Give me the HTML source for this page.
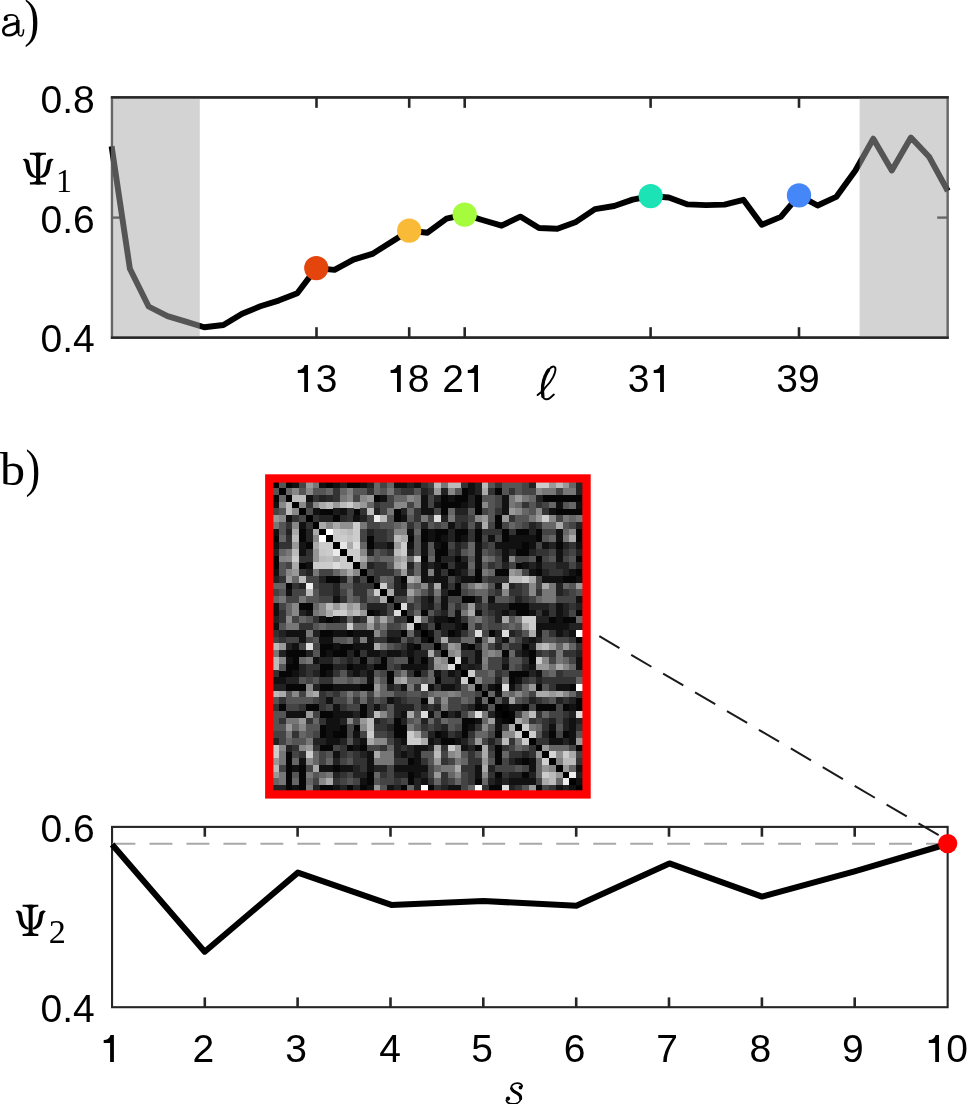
<!DOCTYPE html>
<html><head><meta charset="utf-8"><style>
html,body{margin:0;padding:0;background:#fff;overflow:hidden}
svg{display:block}
text{fill:#000}
</style></head><body>
<svg width="967" height="1104" viewBox="0 0 967 1104">
<rect x="112.0" y="97.45" width="835.6" height="240.15000000000003" fill="none" stroke="#262626" stroke-width="2.3"/>
<line x1="316.5" y1="97.45" x2="316.5" y2="107.85000000000001" stroke="#262626" stroke-width="2.6"/>
<line x1="316.5" y1="337.6" x2="316.5" y2="327.20000000000005" stroke="#262626" stroke-width="2.6"/>
<line x1="409.2" y1="97.45" x2="409.2" y2="107.85000000000001" stroke="#262626" stroke-width="2.6"/>
<line x1="409.2" y1="337.6" x2="409.2" y2="327.20000000000005" stroke="#262626" stroke-width="2.6"/>
<line x1="464.7" y1="97.45" x2="464.7" y2="107.85000000000001" stroke="#262626" stroke-width="2.6"/>
<line x1="464.7" y1="337.6" x2="464.7" y2="327.20000000000005" stroke="#262626" stroke-width="2.6"/>
<line x1="650.6" y1="97.45" x2="650.6" y2="107.85000000000001" stroke="#262626" stroke-width="2.6"/>
<line x1="650.6" y1="337.6" x2="650.6" y2="327.20000000000005" stroke="#262626" stroke-width="2.6"/>
<line x1="799.0" y1="97.45" x2="799.0" y2="107.85000000000001" stroke="#262626" stroke-width="2.6"/>
<line x1="799.0" y1="337.6" x2="799.0" y2="327.20000000000005" stroke="#262626" stroke-width="2.6"/>
<line x1="112.0" y1="217.6" x2="122.4" y2="217.6" stroke="#262626" stroke-width="2.4"/>
<line x1="947.6" y1="217.6" x2="937.2" y2="217.6" stroke="#262626" stroke-width="2.4"/>
<polyline points="111.6,146.2 129.9,268.8 148.6,306.5 167.5,316.2 185.9,321.6 204.2,327.2 223.4,325.0 242.1,313.8 260.3,306.3 278.6,300.6 297.3,293.3 316.3,268.1 334.5,269.9 353.4,259.6 372.3,253.9 390.5,242.4 409.2,230.7 427.5,232.7 446.5,218.7 464.7,214.6 483.2,220.2 501.6,225.7 520.3,216.6 539.0,228.0 557.4,228.7 576.0,221.9 595.0,209.1 614.2,206.0 632.6,199.6 650.7,196.1 668.8,197.5 687.7,204.4 706.1,205.1 724.5,204.6 743.4,199.8 761.8,224.8 780.8,216.9 799.0,195.3 817.6,205.5 836.2,196.9 855.4,170.5 873.3,138.7 891.8,170.5 910.9,137.5 929.3,157.1 947.8,191.0" fill="none" stroke="#000" stroke-width="5.9" stroke-linejoin="round" stroke-linecap="butt"/>
<circle cx="316.3" cy="268.1" r="12.15" fill="#e3450d"/>
<circle cx="409.2" cy="230.7" r="12.15" fill="#f9ba38"/>
<circle cx="464.7" cy="214.6" r="12.15" fill="#a4fc3c"/>
<circle cx="650.7" cy="196.1" r="12.15" fill="#1ce3b5"/>
<circle cx="799.0" cy="195.3" r="12.15" fill="#4586f8"/>
<rect x="110.85" y="97.45" width="88.95000000000002" height="240.15000000000003" fill="#a8a8a8" fill-opacity="0.505"/>
<rect x="859.6" y="97.45" width="89.14999999999998" height="240.15000000000003" fill="#a8a8a8" fill-opacity="0.505"/>
<line x1="110.85" y1="97.45" x2="948.75" y2="97.45" stroke="#262626" stroke-width="2.3"/>
<line x1="110.85" y1="337.6" x2="948.75" y2="337.6" stroke="#262626" stroke-width="2.3"/>
<rect x="112.05" y="826.9" width="835.6" height="180.30000000000007" fill="none" stroke="#262626" stroke-width="2.1"/>
<line x1="204.8" y1="826.9" x2="204.8" y2="836.6999999999999" stroke="#262626" stroke-width="2.6"/>
<line x1="204.8" y1="1007.2" x2="204.8" y2="997.4000000000001" stroke="#262626" stroke-width="2.6"/>
<line x1="297.6" y1="826.9" x2="297.6" y2="836.6999999999999" stroke="#262626" stroke-width="2.6"/>
<line x1="297.6" y1="1007.2" x2="297.6" y2="997.4000000000001" stroke="#262626" stroke-width="2.6"/>
<line x1="390.5" y1="826.9" x2="390.5" y2="836.6999999999999" stroke="#262626" stroke-width="2.6"/>
<line x1="390.5" y1="1007.2" x2="390.5" y2="997.4000000000001" stroke="#262626" stroke-width="2.6"/>
<line x1="483.3" y1="826.9" x2="483.3" y2="836.6999999999999" stroke="#262626" stroke-width="2.6"/>
<line x1="483.3" y1="1007.2" x2="483.3" y2="997.4000000000001" stroke="#262626" stroke-width="2.6"/>
<line x1="576.2" y1="826.9" x2="576.2" y2="836.6999999999999" stroke="#262626" stroke-width="2.6"/>
<line x1="576.2" y1="1007.2" x2="576.2" y2="997.4000000000001" stroke="#262626" stroke-width="2.6"/>
<line x1="669.0" y1="826.9" x2="669.0" y2="836.6999999999999" stroke="#262626" stroke-width="2.6"/>
<line x1="669.0" y1="1007.2" x2="669.0" y2="997.4000000000001" stroke="#262626" stroke-width="2.6"/>
<line x1="761.9" y1="826.9" x2="761.9" y2="836.6999999999999" stroke="#262626" stroke-width="2.6"/>
<line x1="761.9" y1="1007.2" x2="761.9" y2="997.4000000000001" stroke="#262626" stroke-width="2.6"/>
<line x1="854.7" y1="826.9" x2="854.7" y2="836.6999999999999" stroke="#262626" stroke-width="2.6"/>
<line x1="854.7" y1="1007.2" x2="854.7" y2="997.4000000000001" stroke="#262626" stroke-width="2.6"/>
<line x1="112.5" y1="843.8" x2="947" y2="843.8" stroke="#a8a8a8" stroke-width="2" stroke-dasharray="22.9 14.08"/>
<polyline points="112.1,844.5 204.7,951.7 297.9,872.6 391.3,904.9 483.4,901.0 576.4,905.8 669.4,863.4 762.0,896.6 854.6,871.3 947.4,844.0" fill="none" stroke="#000" stroke-width="6" stroke-linejoin="round"/>
<line x1="599.3" y1="636.2" x2="938.7" y2="835.2" stroke="#1a1a1a" stroke-width="2" stroke-dasharray="23.4 13.6"/>
<circle cx="947.7" cy="843.6" r="9.6" fill="#ff0000"/>
<rect x="272.2" y="481.35" width="310.7" height="310.44999999999993" fill="#060606"/>
<g shape-rendering="crispEdges"><rect x="272.20" y="481.35" width="7.00" height="7.00" fill="#000000"/><rect x="278.95" y="481.35" width="7.00" height="7.00" fill="#555555"/><rect x="292.46" y="481.35" width="7.00" height="7.00" fill="#111111"/><rect x="299.22" y="481.35" width="7.00" height="7.00" fill="#444444"/><rect x="305.97" y="481.35" width="7.00" height="7.00" fill="#999999"/><rect x="312.73" y="481.35" width="7.00" height="7.00" fill="#777777"/><rect x="319.48" y="481.35" width="7.00" height="7.00" fill="#111111"/><rect x="332.99" y="481.35" width="7.00" height="7.00" fill="#111111"/><rect x="339.74" y="481.35" width="7.00" height="7.00" fill="#222222"/><rect x="360.01" y="481.35" width="7.00" height="7.00" fill="#111111"/><rect x="366.76" y="481.35" width="7.00" height="7.00" fill="#222222"/><rect x="373.52" y="481.35" width="7.00" height="7.00" fill="#666666"/><rect x="380.27" y="481.35" width="7.00" height="7.00" fill="#444444"/><rect x="387.02" y="481.35" width="7.00" height="7.00" fill="#666666"/><rect x="393.78" y="481.35" width="7.00" height="7.00" fill="#111111"/><rect x="400.53" y="481.35" width="7.00" height="7.00" fill="#111111"/><rect x="407.29" y="481.35" width="7.00" height="7.00" fill="#222222"/><rect x="414.04" y="481.35" width="7.00" height="7.00" fill="#111111"/><rect x="420.80" y="481.35" width="7.00" height="7.00" fill="#333333"/><rect x="427.55" y="481.35" width="7.00" height="7.00" fill="#444444"/><rect x="434.30" y="481.35" width="7.00" height="7.00" fill="#bbbbbb"/><rect x="441.06" y="481.35" width="7.00" height="7.00" fill="#777777"/><rect x="447.81" y="481.35" width="7.00" height="7.00" fill="#bbbbbb"/><rect x="454.57" y="481.35" width="7.00" height="7.00" fill="#bbbbbb"/><rect x="461.32" y="481.35" width="7.00" height="7.00" fill="#333333"/><rect x="468.08" y="481.35" width="7.00" height="7.00" fill="#111111"/><rect x="474.83" y="481.35" width="7.00" height="7.00" fill="#222222"/><rect x="481.58" y="481.35" width="7.00" height="7.00" fill="#bbbbbb"/><rect x="488.34" y="481.35" width="7.00" height="7.00" fill="#555555"/><rect x="495.09" y="481.35" width="7.00" height="7.00" fill="#333333"/><rect x="501.85" y="481.35" width="7.00" height="7.00" fill="#555555"/><rect x="508.60" y="481.35" width="7.00" height="7.00" fill="#555555"/><rect x="515.36" y="481.35" width="7.00" height="7.00" fill="#555555"/><rect x="522.11" y="481.35" width="7.00" height="7.00" fill="#444444"/><rect x="528.87" y="481.35" width="7.00" height="7.00" fill="#222222"/><rect x="535.62" y="481.35" width="7.00" height="7.00" fill="#cccccc"/><rect x="542.37" y="481.35" width="7.00" height="7.00" fill="#cccccc"/><rect x="549.13" y="481.35" width="7.00" height="7.00" fill="#999999"/><rect x="555.88" y="481.35" width="7.00" height="7.00" fill="#bbbbbb"/><rect x="562.64" y="481.35" width="7.00" height="7.00" fill="#999999"/><rect x="569.39" y="481.35" width="7.00" height="7.00" fill="#666666"/><rect x="576.15" y="481.35" width="7.00" height="7.00" fill="#222222"/><rect x="272.20" y="488.10" width="7.00" height="7.00" fill="#555555"/><rect x="278.95" y="488.10" width="7.00" height="7.00" fill="#000000"/><rect x="285.71" y="488.10" width="7.00" height="7.00" fill="#666666"/><rect x="292.46" y="488.10" width="7.00" height="7.00" fill="#888888"/><rect x="299.22" y="488.10" width="7.00" height="7.00" fill="#555555"/><rect x="305.97" y="488.10" width="7.00" height="7.00" fill="#888888"/><rect x="312.73" y="488.10" width="7.00" height="7.00" fill="#555555"/><rect x="319.48" y="488.10" width="7.00" height="7.00" fill="#555555"/><rect x="326.23" y="488.10" width="7.00" height="7.00" fill="#666666"/><rect x="332.99" y="488.10" width="7.00" height="7.00" fill="#333333"/><rect x="339.74" y="488.10" width="7.00" height="7.00" fill="#666666"/><rect x="346.50" y="488.10" width="7.00" height="7.00" fill="#808080"/><rect x="353.25" y="488.10" width="7.00" height="7.00" fill="#555555"/><rect x="360.01" y="488.10" width="7.00" height="7.00" fill="#555555"/><rect x="366.76" y="488.10" width="7.00" height="7.00" fill="#333333"/><rect x="373.52" y="488.10" width="7.00" height="7.00" fill="#666666"/><rect x="380.27" y="488.10" width="7.00" height="7.00" fill="#555555"/><rect x="387.02" y="488.10" width="7.00" height="7.00" fill="#777777"/><rect x="393.78" y="488.10" width="7.00" height="7.00" fill="#444444"/><rect x="400.53" y="488.10" width="7.00" height="7.00" fill="#333333"/><rect x="407.29" y="488.10" width="7.00" height="7.00" fill="#333333"/><rect x="414.04" y="488.10" width="7.00" height="7.00" fill="#555555"/><rect x="420.80" y="488.10" width="7.00" height="7.00" fill="#222222"/><rect x="427.55" y="488.10" width="7.00" height="7.00" fill="#333333"/><rect x="434.30" y="488.10" width="7.00" height="7.00" fill="#999999"/><rect x="441.06" y="488.10" width="7.00" height="7.00" fill="#222222"/><rect x="447.81" y="488.10" width="7.00" height="7.00" fill="#888888"/><rect x="454.57" y="488.10" width="7.00" height="7.00" fill="#555555"/><rect x="468.08" y="488.10" width="7.00" height="7.00" fill="#111111"/><rect x="474.83" y="488.10" width="7.00" height="7.00" fill="#222222"/><rect x="481.58" y="488.10" width="7.00" height="7.00" fill="#aaaaaa"/><rect x="488.34" y="488.10" width="7.00" height="7.00" fill="#333333"/><rect x="501.85" y="488.10" width="7.00" height="7.00" fill="#555555"/><rect x="508.60" y="488.10" width="7.00" height="7.00" fill="#333333"/><rect x="515.36" y="488.10" width="7.00" height="7.00" fill="#555555"/><rect x="522.11" y="488.10" width="7.00" height="7.00" fill="#444444"/><rect x="528.87" y="488.10" width="7.00" height="7.00" fill="#444444"/><rect x="535.62" y="488.10" width="7.00" height="7.00" fill="#888888"/><rect x="542.37" y="488.10" width="7.00" height="7.00" fill="#777777"/><rect x="549.13" y="488.10" width="7.00" height="7.00" fill="#777777"/><rect x="555.88" y="488.10" width="7.00" height="7.00" fill="#444444"/><rect x="562.64" y="488.10" width="7.00" height="7.00" fill="#777777"/><rect x="569.39" y="488.10" width="7.00" height="7.00" fill="#777777"/><rect x="576.15" y="488.10" width="7.00" height="7.00" fill="#222222"/><rect x="278.95" y="494.85" width="7.00" height="7.00" fill="#666666"/><rect x="285.71" y="494.85" width="7.00" height="7.00" fill="#000000"/><rect x="292.46" y="494.85" width="7.00" height="7.00" fill="#bbbbbb"/><rect x="299.22" y="494.85" width="7.00" height="7.00" fill="#bbbbbb"/><rect x="305.97" y="494.85" width="7.00" height="7.00" fill="#111111"/><rect x="312.73" y="494.85" width="7.00" height="7.00" fill="#333333"/><rect x="319.48" y="494.85" width="7.00" height="7.00" fill="#222222"/><rect x="326.23" y="494.85" width="7.00" height="7.00" fill="#2a2a2a"/><rect x="332.99" y="494.85" width="7.00" height="7.00" fill="#333333"/><rect x="339.74" y="494.85" width="7.00" height="7.00" fill="#777777"/><rect x="346.50" y="494.85" width="7.00" height="7.00" fill="#888888"/><rect x="353.25" y="494.85" width="7.00" height="7.00" fill="#444444"/><rect x="360.01" y="494.85" width="7.00" height="7.00" fill="#888888"/><rect x="366.76" y="494.85" width="7.00" height="7.00" fill="#999999"/><rect x="380.27" y="494.85" width="7.00" height="7.00" fill="#111111"/><rect x="387.02" y="494.85" width="7.00" height="7.00" fill="#444444"/><rect x="393.78" y="494.85" width="7.00" height="7.00" fill="#666666"/><rect x="400.53" y="494.85" width="7.00" height="7.00" fill="#666666"/><rect x="407.29" y="494.85" width="7.00" height="7.00" fill="#888888"/><rect x="414.04" y="494.85" width="7.00" height="7.00" fill="#777777"/><rect x="420.80" y="494.85" width="7.00" height="7.00" fill="#111111"/><rect x="427.55" y="494.85" width="7.00" height="7.00" fill="#444444"/><rect x="434.30" y="494.85" width="7.00" height="7.00" fill="#222222"/><rect x="447.81" y="494.85" width="7.00" height="7.00" fill="#111111"/><rect x="468.08" y="494.85" width="7.00" height="7.00" fill="#222222"/><rect x="481.58" y="494.85" width="7.00" height="7.00" fill="#555555"/><rect x="488.34" y="494.85" width="7.00" height="7.00" fill="#555555"/><rect x="495.09" y="494.85" width="7.00" height="7.00" fill="#444444"/><rect x="501.85" y="494.85" width="7.00" height="7.00" fill="#111111"/><rect x="508.60" y="494.85" width="7.00" height="7.00" fill="#777777"/><rect x="515.36" y="494.85" width="7.00" height="7.00" fill="#999999"/><rect x="522.11" y="494.85" width="7.00" height="7.00" fill="#777777"/><rect x="528.87" y="494.85" width="7.00" height="7.00" fill="#666666"/><rect x="535.62" y="494.85" width="7.00" height="7.00" fill="#222222"/><rect x="272.20" y="501.60" width="7.00" height="7.00" fill="#111111"/><rect x="278.95" y="501.60" width="7.00" height="7.00" fill="#888888"/><rect x="285.71" y="501.60" width="7.00" height="7.00" fill="#bbbbbb"/><rect x="292.46" y="501.60" width="7.00" height="7.00" fill="#000000"/><rect x="299.22" y="501.60" width="7.00" height="7.00" fill="#888888"/><rect x="305.97" y="501.60" width="7.00" height="7.00" fill="#333333"/><rect x="312.73" y="501.60" width="7.00" height="7.00" fill="#888888"/><rect x="319.48" y="501.60" width="7.00" height="7.00" fill="#aaaaaa"/><rect x="326.23" y="501.60" width="7.00" height="7.00" fill="#bbbbbb"/><rect x="332.99" y="501.60" width="7.00" height="7.00" fill="#999999"/><rect x="339.74" y="501.60" width="7.00" height="7.00" fill="#bbbbbb"/><rect x="346.50" y="501.60" width="7.00" height="7.00" fill="#cccccc"/><rect x="353.25" y="501.60" width="7.00" height="7.00" fill="#aaaaaa"/><rect x="360.01" y="501.60" width="7.00" height="7.00" fill="#999999"/><rect x="366.76" y="501.60" width="7.00" height="7.00" fill="#666666"/><rect x="373.52" y="501.60" width="7.00" height="7.00" fill="#333333"/><rect x="380.27" y="501.60" width="7.00" height="7.00" fill="#444444"/><rect x="387.02" y="501.60" width="7.00" height="7.00" fill="#444444"/><rect x="393.78" y="501.60" width="7.00" height="7.00" fill="#888888"/><rect x="400.53" y="501.60" width="7.00" height="7.00" fill="#888888"/><rect x="407.29" y="501.60" width="7.00" height="7.00" fill="#444444"/><rect x="414.04" y="501.60" width="7.00" height="7.00" fill="#777777"/><rect x="420.80" y="501.60" width="7.00" height="7.00" fill="#111111"/><rect x="427.55" y="501.60" width="7.00" height="7.00" fill="#444444"/><rect x="434.30" y="501.60" width="7.00" height="7.00" fill="#111111"/><rect x="461.32" y="501.60" width="7.00" height="7.00" fill="#111111"/><rect x="468.08" y="501.60" width="7.00" height="7.00" fill="#222222"/><rect x="481.58" y="501.60" width="7.00" height="7.00" fill="#888888"/><rect x="488.34" y="501.60" width="7.00" height="7.00" fill="#555555"/><rect x="495.09" y="501.60" width="7.00" height="7.00" fill="#444444"/><rect x="501.85" y="501.60" width="7.00" height="7.00" fill="#111111"/><rect x="508.60" y="501.60" width="7.00" height="7.00" fill="#777777"/><rect x="515.36" y="501.60" width="7.00" height="7.00" fill="#666666"/><rect x="522.11" y="501.60" width="7.00" height="7.00" fill="#333333"/><rect x="528.87" y="501.60" width="7.00" height="7.00" fill="#555555"/><rect x="535.62" y="501.60" width="7.00" height="7.00" fill="#333333"/><rect x="542.37" y="501.60" width="7.00" height="7.00" fill="#444444"/><rect x="549.13" y="501.60" width="7.00" height="7.00" fill="#666666"/><rect x="555.88" y="501.60" width="7.00" height="7.00" fill="#111111"/><rect x="562.64" y="501.60" width="7.00" height="7.00" fill="#555555"/><rect x="569.39" y="501.60" width="7.00" height="7.00" fill="#666666"/><rect x="576.15" y="501.60" width="7.00" height="7.00" fill="#111111"/><rect x="272.20" y="508.35" width="7.00" height="7.00" fill="#444444"/><rect x="278.95" y="508.35" width="7.00" height="7.00" fill="#555555"/><rect x="285.71" y="508.35" width="7.00" height="7.00" fill="#bbbbbb"/><rect x="292.46" y="508.35" width="7.00" height="7.00" fill="#888888"/><rect x="299.22" y="508.35" width="7.00" height="7.00" fill="#000000"/><rect x="305.97" y="508.35" width="7.00" height="7.00" fill="#4c4c4c"/><rect x="312.73" y="508.35" width="7.00" height="7.00" fill="#111111"/><rect x="332.99" y="508.35" width="7.00" height="7.00" fill="#1a1a1a"/><rect x="339.74" y="508.35" width="7.00" height="7.00" fill="#111111"/><rect x="346.50" y="508.35" width="7.00" height="7.00" fill="#333333"/><rect x="360.01" y="508.35" width="7.00" height="7.00" fill="#333333"/><rect x="366.76" y="508.35" width="7.00" height="7.00" fill="#bbbbbb"/><rect x="373.52" y="508.35" width="7.00" height="7.00" fill="#222222"/><rect x="380.27" y="508.35" width="7.00" height="7.00" fill="#444444"/><rect x="387.02" y="508.35" width="7.00" height="7.00" fill="#777777"/><rect x="400.53" y="508.35" width="7.00" height="7.00" fill="#222222"/><rect x="407.29" y="508.35" width="7.00" height="7.00" fill="#666666"/><rect x="414.04" y="508.35" width="7.00" height="7.00" fill="#333333"/><rect x="420.80" y="508.35" width="7.00" height="7.00" fill="#111111"/><rect x="427.55" y="508.35" width="7.00" height="7.00" fill="#111111"/><rect x="434.30" y="508.35" width="7.00" height="7.00" fill="#444444"/><rect x="447.81" y="508.35" width="7.00" height="7.00" fill="#666666"/><rect x="454.57" y="508.35" width="7.00" height="7.00" fill="#222222"/><rect x="461.32" y="508.35" width="7.00" height="7.00" fill="#222222"/><rect x="468.08" y="508.35" width="7.00" height="7.00" fill="#555555"/><rect x="481.58" y="508.35" width="7.00" height="7.00" fill="#444444"/><rect x="488.34" y="508.35" width="7.00" height="7.00" fill="#555555"/><rect x="495.09" y="508.35" width="7.00" height="7.00" fill="#333333"/><rect x="501.85" y="508.35" width="7.00" height="7.00" fill="#111111"/><rect x="508.60" y="508.35" width="7.00" height="7.00" fill="#999999"/><rect x="515.36" y="508.35" width="7.00" height="7.00" fill="#888888"/><rect x="522.11" y="508.35" width="7.00" height="7.00" fill="#666666"/><rect x="528.87" y="508.35" width="7.00" height="7.00" fill="#555555"/><rect x="535.62" y="508.35" width="7.00" height="7.00" fill="#888888"/><rect x="542.37" y="508.35" width="7.00" height="7.00" fill="#333333"/><rect x="549.13" y="508.35" width="7.00" height="7.00" fill="#111111"/><rect x="272.20" y="515.09" width="7.00" height="7.00" fill="#999999"/><rect x="278.95" y="515.09" width="7.00" height="7.00" fill="#888888"/><rect x="285.71" y="515.09" width="7.00" height="7.00" fill="#111111"/><rect x="292.46" y="515.09" width="7.00" height="7.00" fill="#333333"/><rect x="299.22" y="515.09" width="7.00" height="7.00" fill="#484848"/><rect x="305.97" y="515.09" width="7.00" height="7.00" fill="#000000"/><rect x="312.73" y="515.09" width="7.00" height="7.00" fill="#333333"/><rect x="319.48" y="515.09" width="7.00" height="7.00" fill="#222222"/><rect x="326.23" y="515.09" width="7.00" height="7.00" fill="#222222"/><rect x="339.74" y="515.09" width="7.00" height="7.00" fill="#2a2a2a"/><rect x="346.50" y="515.09" width="7.00" height="7.00" fill="#333333"/><rect x="353.25" y="515.09" width="7.00" height="7.00" fill="#111111"/><rect x="360.01" y="515.09" width="7.00" height="7.00" fill="#222222"/><rect x="366.76" y="515.09" width="7.00" height="7.00" fill="#444444"/><rect x="373.52" y="515.09" width="7.00" height="7.00" fill="#eeeeee"/><rect x="380.27" y="515.09" width="7.00" height="7.00" fill="#bbbbbb"/><rect x="387.02" y="515.09" width="7.00" height="7.00" fill="#555555"/><rect x="400.53" y="515.09" width="7.00" height="7.00" fill="#111111"/><rect x="407.29" y="515.09" width="7.00" height="7.00" fill="#555555"/><rect x="414.04" y="515.09" width="7.00" height="7.00" fill="#333333"/><rect x="420.80" y="515.09" width="7.00" height="7.00" fill="#777777"/><rect x="427.55" y="515.09" width="7.00" height="7.00" fill="#444444"/><rect x="434.30" y="515.09" width="7.00" height="7.00" fill="#dddddd"/><rect x="441.06" y="515.09" width="7.00" height="7.00" fill="#222222"/><rect x="447.81" y="515.09" width="7.00" height="7.00" fill="#777777"/><rect x="454.57" y="515.09" width="7.00" height="7.00" fill="#333333"/><rect x="461.32" y="515.09" width="7.00" height="7.00" fill="#333333"/><rect x="468.08" y="515.09" width="7.00" height="7.00" fill="#444444"/><rect x="474.83" y="515.09" width="7.00" height="7.00" fill="#888888"/><rect x="481.58" y="515.09" width="7.00" height="7.00" fill="#999999"/><rect x="488.34" y="515.09" width="7.00" height="7.00" fill="#555555"/><rect x="501.85" y="515.09" width="7.00" height="7.00" fill="#999999"/><rect x="508.60" y="515.09" width="7.00" height="7.00" fill="#333333"/><rect x="515.36" y="515.09" width="7.00" height="7.00" fill="#555555"/><rect x="522.11" y="515.09" width="7.00" height="7.00" fill="#555555"/><rect x="528.87" y="515.09" width="7.00" height="7.00" fill="#777777"/><rect x="535.62" y="515.09" width="7.00" height="7.00" fill="#999999"/><rect x="542.37" y="515.09" width="7.00" height="7.00" fill="#cccccc"/><rect x="549.13" y="515.09" width="7.00" height="7.00" fill="#888888"/><rect x="555.88" y="515.09" width="7.00" height="7.00" fill="#444444"/><rect x="562.64" y="515.09" width="7.00" height="7.00" fill="#777777"/><rect x="569.39" y="515.09" width="7.00" height="7.00" fill="#666666"/><rect x="576.15" y="515.09" width="7.00" height="7.00" fill="#777777"/><rect x="272.20" y="521.84" width="7.00" height="7.00" fill="#777777"/><rect x="278.95" y="521.84" width="7.00" height="7.00" fill="#555555"/><rect x="285.71" y="521.84" width="7.00" height="7.00" fill="#333333"/><rect x="292.46" y="521.84" width="7.00" height="7.00" fill="#888888"/><rect x="299.22" y="521.84" width="7.00" height="7.00" fill="#111111"/><rect x="305.97" y="521.84" width="7.00" height="7.00" fill="#333333"/><rect x="312.73" y="521.84" width="7.00" height="7.00" fill="#000000"/><rect x="319.48" y="521.84" width="7.00" height="7.00" fill="#aaaaaa"/><rect x="326.23" y="521.84" width="7.00" height="7.00" fill="#888888"/><rect x="332.99" y="521.84" width="7.00" height="7.00" fill="#aaaaaa"/><rect x="339.74" y="521.84" width="7.00" height="7.00" fill="#909090"/><rect x="346.50" y="521.84" width="7.00" height="7.00" fill="#909090"/><rect x="353.25" y="521.84" width="7.00" height="7.00" fill="#cccccc"/><rect x="360.01" y="521.84" width="7.00" height="7.00" fill="#777777"/><rect x="366.76" y="521.84" width="7.00" height="7.00" fill="#444444"/><rect x="373.52" y="521.84" width="7.00" height="7.00" fill="#444444"/><rect x="380.27" y="521.84" width="7.00" height="7.00" fill="#555555"/><rect x="387.02" y="521.84" width="7.00" height="7.00" fill="#555555"/><rect x="393.78" y="521.84" width="7.00" height="7.00" fill="#666666"/><rect x="400.53" y="521.84" width="7.00" height="7.00" fill="#777777"/><rect x="407.29" y="521.84" width="7.00" height="7.00" fill="#333333"/><rect x="414.04" y="521.84" width="7.00" height="7.00" fill="#555555"/><rect x="420.80" y="521.84" width="7.00" height="7.00" fill="#222222"/><rect x="427.55" y="521.84" width="7.00" height="7.00" fill="#555555"/><rect x="434.30" y="521.84" width="7.00" height="7.00" fill="#444444"/><rect x="441.06" y="521.84" width="7.00" height="7.00" fill="#555555"/><rect x="447.81" y="521.84" width="7.00" height="7.00" fill="#111111"/><rect x="454.57" y="521.84" width="7.00" height="7.00" fill="#333333"/><rect x="461.32" y="521.84" width="7.00" height="7.00" fill="#222222"/><rect x="468.08" y="521.84" width="7.00" height="7.00" fill="#555555"/><rect x="474.83" y="521.84" width="7.00" height="7.00" fill="#222222"/><rect x="481.58" y="521.84" width="7.00" height="7.00" fill="#aaaaaa"/><rect x="488.34" y="521.84" width="7.00" height="7.00" fill="#444444"/><rect x="501.85" y="521.84" width="7.00" height="7.00" fill="#444444"/><rect x="508.60" y="521.84" width="7.00" height="7.00" fill="#666666"/><rect x="515.36" y="521.84" width="7.00" height="7.00" fill="#555555"/><rect x="522.11" y="521.84" width="7.00" height="7.00" fill="#444444"/><rect x="528.87" y="521.84" width="7.00" height="7.00" fill="#222222"/><rect x="535.62" y="521.84" width="7.00" height="7.00" fill="#333333"/><rect x="542.37" y="521.84" width="7.00" height="7.00" fill="#666666"/><rect x="549.13" y="521.84" width="7.00" height="7.00" fill="#666666"/><rect x="555.88" y="521.84" width="7.00" height="7.00" fill="#aaaaaa"/><rect x="562.64" y="521.84" width="7.00" height="7.00" fill="#555555"/><rect x="569.39" y="521.84" width="7.00" height="7.00" fill="#444444"/><rect x="576.15" y="521.84" width="7.00" height="7.00" fill="#222222"/><rect x="272.20" y="528.59" width="7.00" height="7.00" fill="#111111"/><rect x="278.95" y="528.59" width="7.00" height="7.00" fill="#555555"/><rect x="285.71" y="528.59" width="7.00" height="7.00" fill="#222222"/><rect x="292.46" y="528.59" width="7.00" height="7.00" fill="#aaaaaa"/><rect x="305.97" y="528.59" width="7.00" height="7.00" fill="#222222"/><rect x="312.73" y="528.59" width="7.00" height="7.00" fill="#aaaaaa"/><rect x="319.48" y="528.59" width="7.00" height="7.00" fill="#000000"/><rect x="326.23" y="528.59" width="7.00" height="7.00" fill="#ffffff"/><rect x="332.99" y="528.59" width="7.00" height="7.00" fill="#cccccc"/><rect x="339.74" y="528.59" width="7.00" height="7.00" fill="#c4c4c4"/><rect x="346.50" y="528.59" width="7.00" height="7.00" fill="#bbbbbb"/><rect x="353.25" y="528.59" width="7.00" height="7.00" fill="#cccccc"/><rect x="360.01" y="528.59" width="7.00" height="7.00" fill="#444444"/><rect x="366.76" y="528.59" width="7.00" height="7.00" fill="#222222"/><rect x="373.52" y="528.59" width="7.00" height="7.00" fill="#333333"/><rect x="380.27" y="528.59" width="7.00" height="7.00" fill="#333333"/><rect x="387.02" y="528.59" width="7.00" height="7.00" fill="#444444"/><rect x="393.78" y="528.59" width="7.00" height="7.00" fill="#888888"/><rect x="400.53" y="528.59" width="7.00" height="7.00" fill="#888888"/><rect x="407.29" y="528.59" width="7.00" height="7.00" fill="#111111"/><rect x="414.04" y="528.59" width="7.00" height="7.00" fill="#666666"/><rect x="427.55" y="528.59" width="7.00" height="7.00" fill="#111111"/><rect x="447.81" y="528.59" width="7.00" height="7.00" fill="#222222"/><rect x="468.08" y="528.59" width="7.00" height="7.00" fill="#333333"/><rect x="481.58" y="528.59" width="7.00" height="7.00" fill="#333333"/><rect x="488.34" y="528.59" width="7.00" height="7.00" fill="#333333"/><rect x="495.09" y="528.59" width="7.00" height="7.00" fill="#333333"/><rect x="508.60" y="528.59" width="7.00" height="7.00" fill="#333333"/><rect x="528.87" y="528.59" width="7.00" height="7.00" fill="#222222"/><rect x="542.37" y="528.59" width="7.00" height="7.00" fill="#444444"/><rect x="549.13" y="528.59" width="7.00" height="7.00" fill="#444444"/><rect x="555.88" y="528.59" width="7.00" height="7.00" fill="#111111"/><rect x="562.64" y="528.59" width="7.00" height="7.00" fill="#666666"/><rect x="569.39" y="528.59" width="7.00" height="7.00" fill="#888888"/><rect x="278.95" y="535.34" width="7.00" height="7.00" fill="#666666"/><rect x="285.71" y="535.34" width="7.00" height="7.00" fill="#2f2f2f"/><rect x="292.46" y="535.34" width="7.00" height="7.00" fill="#bbbbbb"/><rect x="305.97" y="535.34" width="7.00" height="7.00" fill="#222222"/><rect x="312.73" y="535.34" width="7.00" height="7.00" fill="#888888"/><rect x="319.48" y="535.34" width="7.00" height="7.00" fill="#ffffff"/><rect x="326.23" y="535.34" width="7.00" height="7.00" fill="#000000"/><rect x="332.99" y="535.34" width="7.00" height="7.00" fill="#cccccc"/><rect x="339.74" y="535.34" width="7.00" height="7.00" fill="#cccccc"/><rect x="346.50" y="535.34" width="7.00" height="7.00" fill="#c4c4c4"/><rect x="353.25" y="535.34" width="7.00" height="7.00" fill="#cccccc"/><rect x="360.01" y="535.34" width="7.00" height="7.00" fill="#444444"/><rect x="373.52" y="535.34" width="7.00" height="7.00" fill="#333333"/><rect x="380.27" y="535.34" width="7.00" height="7.00" fill="#333333"/><rect x="387.02" y="535.34" width="7.00" height="7.00" fill="#444444"/><rect x="393.78" y="535.34" width="7.00" height="7.00" fill="#bbbbbb"/><rect x="400.53" y="535.34" width="7.00" height="7.00" fill="#aaaaaa"/><rect x="414.04" y="535.34" width="7.00" height="7.00" fill="#555555"/><rect x="427.55" y="535.34" width="7.00" height="7.00" fill="#111111"/><rect x="441.06" y="535.34" width="7.00" height="7.00" fill="#111111"/><rect x="447.81" y="535.34" width="7.00" height="7.00" fill="#222222"/><rect x="461.32" y="535.34" width="7.00" height="7.00" fill="#111111"/><rect x="468.08" y="535.34" width="7.00" height="7.00" fill="#333333"/><rect x="481.58" y="535.34" width="7.00" height="7.00" fill="#444444"/><rect x="488.34" y="535.34" width="7.00" height="7.00" fill="#111111"/><rect x="495.09" y="535.34" width="7.00" height="7.00" fill="#444444"/><rect x="508.60" y="535.34" width="7.00" height="7.00" fill="#111111"/><rect x="515.36" y="535.34" width="7.00" height="7.00" fill="#111111"/><rect x="522.11" y="535.34" width="7.00" height="7.00" fill="#111111"/><rect x="528.87" y="535.34" width="7.00" height="7.00" fill="#111111"/><rect x="542.37" y="535.34" width="7.00" height="7.00" fill="#555555"/><rect x="549.13" y="535.34" width="7.00" height="7.00" fill="#666666"/><rect x="555.88" y="535.34" width="7.00" height="7.00" fill="#111111"/><rect x="562.64" y="535.34" width="7.00" height="7.00" fill="#777777"/><rect x="569.39" y="535.34" width="7.00" height="7.00" fill="#aaaaaa"/><rect x="272.20" y="542.09" width="7.00" height="7.00" fill="#111111"/><rect x="278.95" y="542.09" width="7.00" height="7.00" fill="#333333"/><rect x="285.71" y="542.09" width="7.00" height="7.00" fill="#333333"/><rect x="292.46" y="542.09" width="7.00" height="7.00" fill="#999999"/><rect x="299.22" y="542.09" width="7.00" height="7.00" fill="#151515"/><rect x="312.73" y="542.09" width="7.00" height="7.00" fill="#aaaaaa"/><rect x="319.48" y="542.09" width="7.00" height="7.00" fill="#cccccc"/><rect x="326.23" y="542.09" width="7.00" height="7.00" fill="#cccccc"/><rect x="332.99" y="542.09" width="7.00" height="7.00" fill="#000000"/><rect x="339.74" y="542.09" width="7.00" height="7.00" fill="#e6e6e6"/><rect x="346.50" y="542.09" width="7.00" height="7.00" fill="#aaaaaa"/><rect x="353.25" y="542.09" width="7.00" height="7.00" fill="#dddddd"/><rect x="360.01" y="542.09" width="7.00" height="7.00" fill="#666666"/><rect x="373.52" y="542.09" width="7.00" height="7.00" fill="#222222"/><rect x="380.27" y="542.09" width="7.00" height="7.00" fill="#222222"/><rect x="387.02" y="542.09" width="7.00" height="7.00" fill="#111111"/><rect x="393.78" y="542.09" width="7.00" height="7.00" fill="#999999"/><rect x="400.53" y="542.09" width="7.00" height="7.00" fill="#cccccc"/><rect x="407.29" y="542.09" width="7.00" height="7.00" fill="#111111"/><rect x="414.04" y="542.09" width="7.00" height="7.00" fill="#555555"/><rect x="420.80" y="542.09" width="7.00" height="7.00" fill="#111111"/><rect x="427.55" y="542.09" width="7.00" height="7.00" fill="#555555"/><rect x="434.30" y="542.09" width="7.00" height="7.00" fill="#111111"/><rect x="447.81" y="542.09" width="7.00" height="7.00" fill="#444444"/><rect x="454.57" y="542.09" width="7.00" height="7.00" fill="#222222"/><rect x="461.32" y="542.09" width="7.00" height="7.00" fill="#333333"/><rect x="468.08" y="542.09" width="7.00" height="7.00" fill="#666666"/><rect x="474.83" y="542.09" width="7.00" height="7.00" fill="#111111"/><rect x="481.58" y="542.09" width="7.00" height="7.00" fill="#333333"/><rect x="488.34" y="542.09" width="7.00" height="7.00" fill="#444444"/><rect x="495.09" y="542.09" width="7.00" height="7.00" fill="#111111"/><rect x="501.85" y="542.09" width="7.00" height="7.00" fill="#111111"/><rect x="508.60" y="542.09" width="7.00" height="7.00" fill="#111111"/><rect x="515.36" y="542.09" width="7.00" height="7.00" fill="#111111"/><rect x="528.87" y="542.09" width="7.00" height="7.00" fill="#111111"/><rect x="535.62" y="542.09" width="7.00" height="7.00" fill="#444444"/><rect x="542.37" y="542.09" width="7.00" height="7.00" fill="#111111"/><rect x="549.13" y="542.09" width="7.00" height="7.00" fill="#222222"/><rect x="562.64" y="542.09" width="7.00" height="7.00" fill="#222222"/><rect x="569.39" y="542.09" width="7.00" height="7.00" fill="#333333"/><rect x="576.15" y="542.09" width="7.00" height="7.00" fill="#111111"/><rect x="272.20" y="548.84" width="7.00" height="7.00" fill="#222222"/><rect x="278.95" y="548.84" width="7.00" height="7.00" fill="#666666"/><rect x="285.71" y="548.84" width="7.00" height="7.00" fill="#777777"/><rect x="292.46" y="548.84" width="7.00" height="7.00" fill="#bbbbbb"/><rect x="299.22" y="548.84" width="7.00" height="7.00" fill="#111111"/><rect x="305.97" y="548.84" width="7.00" height="7.00" fill="#2f2f2f"/><rect x="312.73" y="548.84" width="7.00" height="7.00" fill="#959595"/><rect x="319.48" y="548.84" width="7.00" height="7.00" fill="#c8c8c8"/><rect x="326.23" y="548.84" width="7.00" height="7.00" fill="#cccccc"/><rect x="332.99" y="548.84" width="7.00" height="7.00" fill="#eaeaea"/><rect x="339.74" y="548.84" width="7.00" height="7.00" fill="#000000"/><rect x="346.50" y="548.84" width="7.00" height="7.00" fill="#cccccc"/><rect x="353.25" y="548.84" width="7.00" height="7.00" fill="#cccccc"/><rect x="360.01" y="548.84" width="7.00" height="7.00" fill="#888888"/><rect x="366.76" y="548.84" width="7.00" height="7.00" fill="#222222"/><rect x="373.52" y="548.84" width="7.00" height="7.00" fill="#555555"/><rect x="380.27" y="548.84" width="7.00" height="7.00" fill="#444444"/><rect x="387.02" y="548.84" width="7.00" height="7.00" fill="#333333"/><rect x="393.78" y="548.84" width="7.00" height="7.00" fill="#bbbbbb"/><rect x="400.53" y="548.84" width="7.00" height="7.00" fill="#cccccc"/><rect x="407.29" y="548.84" width="7.00" height="7.00" fill="#222222"/><rect x="414.04" y="548.84" width="7.00" height="7.00" fill="#555555"/><rect x="420.80" y="548.84" width="7.00" height="7.00" fill="#111111"/><rect x="427.55" y="548.84" width="7.00" height="7.00" fill="#555555"/><rect x="447.81" y="548.84" width="7.00" height="7.00" fill="#333333"/><rect x="454.57" y="548.84" width="7.00" height="7.00" fill="#222222"/><rect x="461.32" y="548.84" width="7.00" height="7.00" fill="#555555"/><rect x="468.08" y="548.84" width="7.00" height="7.00" fill="#666666"/><rect x="474.83" y="548.84" width="7.00" height="7.00" fill="#111111"/><rect x="481.58" y="548.84" width="7.00" height="7.00" fill="#555555"/><rect x="488.34" y="548.84" width="7.00" height="7.00" fill="#444444"/><rect x="495.09" y="548.84" width="7.00" height="7.00" fill="#333333"/><rect x="501.85" y="548.84" width="7.00" height="7.00" fill="#111111"/><rect x="508.60" y="548.84" width="7.00" height="7.00" fill="#222222"/><rect x="528.87" y="548.84" width="7.00" height="7.00" fill="#222222"/><rect x="535.62" y="548.84" width="7.00" height="7.00" fill="#333333"/><rect x="542.37" y="548.84" width="7.00" height="7.00" fill="#333333"/><rect x="549.13" y="548.84" width="7.00" height="7.00" fill="#444444"/><rect x="555.88" y="548.84" width="7.00" height="7.00" fill="#111111"/><rect x="562.64" y="548.84" width="7.00" height="7.00" fill="#333333"/><rect x="569.39" y="548.84" width="7.00" height="7.00" fill="#444444"/><rect x="576.15" y="548.84" width="7.00" height="7.00" fill="#222222"/><rect x="278.95" y="555.59" width="7.00" height="7.00" fill="#848484"/><rect x="285.71" y="555.59" width="7.00" height="7.00" fill="#888888"/><rect x="292.46" y="555.59" width="7.00" height="7.00" fill="#cccccc"/><rect x="299.22" y="555.59" width="7.00" height="7.00" fill="#333333"/><rect x="305.97" y="555.59" width="7.00" height="7.00" fill="#333333"/><rect x="312.73" y="555.59" width="7.00" height="7.00" fill="#959595"/><rect x="319.48" y="555.59" width="7.00" height="7.00" fill="#bbbbbb"/><rect x="326.23" y="555.59" width="7.00" height="7.00" fill="#bfbfbf"/><rect x="332.99" y="555.59" width="7.00" height="7.00" fill="#aaaaaa"/><rect x="339.74" y="555.59" width="7.00" height="7.00" fill="#cccccc"/><rect x="346.50" y="555.59" width="7.00" height="7.00" fill="#000000"/><rect x="353.25" y="555.59" width="7.00" height="7.00" fill="#cccccc"/><rect x="360.01" y="555.59" width="7.00" height="7.00" fill="#aaaaaa"/><rect x="366.76" y="555.59" width="7.00" height="7.00" fill="#666666"/><rect x="373.52" y="555.59" width="7.00" height="7.00" fill="#555555"/><rect x="380.27" y="555.59" width="7.00" height="7.00" fill="#666666"/><rect x="387.02" y="555.59" width="7.00" height="7.00" fill="#666666"/><rect x="393.78" y="555.59" width="7.00" height="7.00" fill="#999999"/><rect x="400.53" y="555.59" width="7.00" height="7.00" fill="#aaaaaa"/><rect x="407.29" y="555.59" width="7.00" height="7.00" fill="#666666"/><rect x="414.04" y="555.59" width="7.00" height="7.00" fill="#cccccc"/><rect x="427.55" y="555.59" width="7.00" height="7.00" fill="#666666"/><rect x="441.06" y="555.59" width="7.00" height="7.00" fill="#222222"/><rect x="447.81" y="555.59" width="7.00" height="7.00" fill="#222222"/><rect x="461.32" y="555.59" width="7.00" height="7.00" fill="#222222"/><rect x="468.08" y="555.59" width="7.00" height="7.00" fill="#555555"/><rect x="474.83" y="555.59" width="7.00" height="7.00" fill="#111111"/><rect x="481.58" y="555.59" width="7.00" height="7.00" fill="#777777"/><rect x="488.34" y="555.59" width="7.00" height="7.00" fill="#666666"/><rect x="495.09" y="555.59" width="7.00" height="7.00" fill="#444444"/><rect x="501.85" y="555.59" width="7.00" height="7.00" fill="#111111"/><rect x="508.60" y="555.59" width="7.00" height="7.00" fill="#888888"/><rect x="515.36" y="555.59" width="7.00" height="7.00" fill="#444444"/><rect x="522.11" y="555.59" width="7.00" height="7.00" fill="#444444"/><rect x="528.87" y="555.59" width="7.00" height="7.00" fill="#555555"/><rect x="542.37" y="555.59" width="7.00" height="7.00" fill="#444444"/><rect x="549.13" y="555.59" width="7.00" height="7.00" fill="#555555"/><rect x="555.88" y="555.59" width="7.00" height="7.00" fill="#111111"/><rect x="562.64" y="555.59" width="7.00" height="7.00" fill="#444444"/><rect x="569.39" y="555.59" width="7.00" height="7.00" fill="#555555"/><rect x="278.95" y="562.34" width="7.00" height="7.00" fill="#555555"/><rect x="285.71" y="562.34" width="7.00" height="7.00" fill="#444444"/><rect x="292.46" y="562.34" width="7.00" height="7.00" fill="#aaaaaa"/><rect x="305.97" y="562.34" width="7.00" height="7.00" fill="#111111"/><rect x="312.73" y="562.34" width="7.00" height="7.00" fill="#cccccc"/><rect x="319.48" y="562.34" width="7.00" height="7.00" fill="#cccccc"/><rect x="326.23" y="562.34" width="7.00" height="7.00" fill="#cccccc"/><rect x="332.99" y="562.34" width="7.00" height="7.00" fill="#dddddd"/><rect x="339.74" y="562.34" width="7.00" height="7.00" fill="#cccccc"/><rect x="346.50" y="562.34" width="7.00" height="7.00" fill="#cccccc"/><rect x="353.25" y="562.34" width="7.00" height="7.00" fill="#000000"/><rect x="360.01" y="562.34" width="7.00" height="7.00" fill="#888888"/><rect x="366.76" y="562.34" width="7.00" height="7.00" fill="#222222"/><rect x="373.52" y="562.34" width="7.00" height="7.00" fill="#333333"/><rect x="380.27" y="562.34" width="7.00" height="7.00" fill="#333333"/><rect x="387.02" y="562.34" width="7.00" height="7.00" fill="#555555"/><rect x="393.78" y="562.34" width="7.00" height="7.00" fill="#aaaaaa"/><rect x="400.53" y="562.34" width="7.00" height="7.00" fill="#bbbbbb"/><rect x="407.29" y="562.34" width="7.00" height="7.00" fill="#222222"/><rect x="414.04" y="562.34" width="7.00" height="7.00" fill="#666666"/><rect x="420.80" y="562.34" width="7.00" height="7.00" fill="#111111"/><rect x="427.55" y="562.34" width="7.00" height="7.00" fill="#222222"/><rect x="434.30" y="562.34" width="7.00" height="7.00" fill="#111111"/><rect x="447.81" y="562.34" width="7.00" height="7.00" fill="#333333"/><rect x="454.57" y="562.34" width="7.00" height="7.00" fill="#111111"/><rect x="461.32" y="562.34" width="7.00" height="7.00" fill="#111111"/><rect x="468.08" y="562.34" width="7.00" height="7.00" fill="#666666"/><rect x="474.83" y="562.34" width="7.00" height="7.00" fill="#111111"/><rect x="481.58" y="562.34" width="7.00" height="7.00" fill="#555555"/><rect x="488.34" y="562.34" width="7.00" height="7.00" fill="#333333"/><rect x="495.09" y="562.34" width="7.00" height="7.00" fill="#444444"/><rect x="501.85" y="562.34" width="7.00" height="7.00" fill="#222222"/><rect x="508.60" y="562.34" width="7.00" height="7.00" fill="#444444"/><rect x="522.11" y="562.34" width="7.00" height="7.00" fill="#111111"/><rect x="528.87" y="562.34" width="7.00" height="7.00" fill="#222222"/><rect x="535.62" y="562.34" width="7.00" height="7.00" fill="#111111"/><rect x="542.37" y="562.34" width="7.00" height="7.00" fill="#333333"/><rect x="549.13" y="562.34" width="7.00" height="7.00" fill="#333333"/><rect x="555.88" y="562.34" width="7.00" height="7.00" fill="#222222"/><rect x="562.64" y="562.34" width="7.00" height="7.00" fill="#222222"/><rect x="569.39" y="562.34" width="7.00" height="7.00" fill="#444444"/><rect x="576.15" y="562.34" width="7.00" height="7.00" fill="#222222"/><rect x="272.20" y="569.09" width="7.00" height="7.00" fill="#111111"/><rect x="278.95" y="569.09" width="7.00" height="7.00" fill="#555555"/><rect x="285.71" y="569.09" width="7.00" height="7.00" fill="#888888"/><rect x="292.46" y="569.09" width="7.00" height="7.00" fill="#999999"/><rect x="299.22" y="569.09" width="7.00" height="7.00" fill="#333333"/><rect x="305.97" y="569.09" width="7.00" height="7.00" fill="#222222"/><rect x="312.73" y="569.09" width="7.00" height="7.00" fill="#777777"/><rect x="319.48" y="569.09" width="7.00" height="7.00" fill="#444444"/><rect x="326.23" y="569.09" width="7.00" height="7.00" fill="#444444"/><rect x="332.99" y="569.09" width="7.00" height="7.00" fill="#666666"/><rect x="339.74" y="569.09" width="7.00" height="7.00" fill="#888888"/><rect x="346.50" y="569.09" width="7.00" height="7.00" fill="#aaaaaa"/><rect x="353.25" y="569.09" width="7.00" height="7.00" fill="#888888"/><rect x="360.01" y="569.09" width="7.00" height="7.00" fill="#000000"/><rect x="366.76" y="569.09" width="7.00" height="7.00" fill="#444444"/><rect x="373.52" y="569.09" width="7.00" height="7.00" fill="#333333"/><rect x="380.27" y="569.09" width="7.00" height="7.00" fill="#333333"/><rect x="387.02" y="569.09" width="7.00" height="7.00" fill="#333333"/><rect x="393.78" y="569.09" width="7.00" height="7.00" fill="#555555"/><rect x="400.53" y="569.09" width="7.00" height="7.00" fill="#999999"/><rect x="407.29" y="569.09" width="7.00" height="7.00" fill="#333333"/><rect x="414.04" y="569.09" width="7.00" height="7.00" fill="#666666"/><rect x="420.80" y="569.09" width="7.00" height="7.00" fill="#111111"/><rect x="427.55" y="569.09" width="7.00" height="7.00" fill="#808080"/><rect x="434.30" y="569.09" width="7.00" height="7.00" fill="#111111"/><rect x="441.06" y="569.09" width="7.00" height="7.00" fill="#333333"/><rect x="454.57" y="569.09" width="7.00" height="7.00" fill="#111111"/><rect x="461.32" y="569.09" width="7.00" height="7.00" fill="#222222"/><rect x="468.08" y="569.09" width="7.00" height="7.00" fill="#555555"/><rect x="481.58" y="569.09" width="7.00" height="7.00" fill="#777777"/><rect x="488.34" y="569.09" width="7.00" height="7.00" fill="#666666"/><rect x="508.60" y="569.09" width="7.00" height="7.00" fill="#999999"/><rect x="515.36" y="569.09" width="7.00" height="7.00" fill="#888888"/><rect x="522.11" y="569.09" width="7.00" height="7.00" fill="#444444"/><rect x="528.87" y="569.09" width="7.00" height="7.00" fill="#111111"/><rect x="542.37" y="569.09" width="7.00" height="7.00" fill="#222222"/><rect x="549.13" y="569.09" width="7.00" height="7.00" fill="#333333"/><rect x="555.88" y="569.09" width="7.00" height="7.00" fill="#333333"/><rect x="562.64" y="569.09" width="7.00" height="7.00" fill="#222222"/><rect x="569.39" y="569.09" width="7.00" height="7.00" fill="#111111"/><rect x="272.20" y="575.83" width="7.00" height="7.00" fill="#222222"/><rect x="278.95" y="575.83" width="7.00" height="7.00" fill="#333333"/><rect x="285.71" y="575.83" width="7.00" height="7.00" fill="#999999"/><rect x="292.46" y="575.83" width="7.00" height="7.00" fill="#666666"/><rect x="299.22" y="575.83" width="7.00" height="7.00" fill="#bbbbbb"/><rect x="305.97" y="575.83" width="7.00" height="7.00" fill="#444444"/><rect x="312.73" y="575.83" width="7.00" height="7.00" fill="#444444"/><rect x="319.48" y="575.83" width="7.00" height="7.00" fill="#222222"/><rect x="339.74" y="575.83" width="7.00" height="7.00" fill="#222222"/><rect x="346.50" y="575.83" width="7.00" height="7.00" fill="#666666"/><rect x="353.25" y="575.83" width="7.00" height="7.00" fill="#222222"/><rect x="360.01" y="575.83" width="7.00" height="7.00" fill="#444444"/><rect x="366.76" y="575.83" width="7.00" height="7.00" fill="#000000"/><rect x="373.52" y="575.83" width="7.00" height="7.00" fill="#333333"/><rect x="380.27" y="575.83" width="7.00" height="7.00" fill="#666666"/><rect x="387.02" y="575.83" width="7.00" height="7.00" fill="#5e5e5e"/><rect x="393.78" y="575.83" width="7.00" height="7.00" fill="#222222"/><rect x="407.29" y="575.83" width="7.00" height="7.00" fill="#b2b2b2"/><rect x="414.04" y="575.83" width="7.00" height="7.00" fill="#999999"/><rect x="420.80" y="575.83" width="7.00" height="7.00" fill="#111111"/><rect x="427.55" y="575.83" width="7.00" height="7.00" fill="#1a1a1a"/><rect x="434.30" y="575.83" width="7.00" height="7.00" fill="#111111"/><rect x="441.06" y="575.83" width="7.00" height="7.00" fill="#111111"/><rect x="447.81" y="575.83" width="7.00" height="7.00" fill="#444444"/><rect x="454.57" y="575.83" width="7.00" height="7.00" fill="#222222"/><rect x="461.32" y="575.83" width="7.00" height="7.00" fill="#111111"/><rect x="468.08" y="575.83" width="7.00" height="7.00" fill="#111111"/><rect x="481.58" y="575.83" width="7.00" height="7.00" fill="#444444"/><rect x="488.34" y="575.83" width="7.00" height="7.00" fill="#333333"/><rect x="495.09" y="575.83" width="7.00" height="7.00" fill="#333333"/><rect x="501.85" y="575.83" width="7.00" height="7.00" fill="#333333"/><rect x="508.60" y="575.83" width="7.00" height="7.00" fill="#bbbbbb"/><rect x="515.36" y="575.83" width="7.00" height="7.00" fill="#bbbbbb"/><rect x="522.11" y="575.83" width="7.00" height="7.00" fill="#cccccc"/><rect x="528.87" y="575.83" width="7.00" height="7.00" fill="#aaaaaa"/><rect x="535.62" y="575.83" width="7.00" height="7.00" fill="#444444"/><rect x="542.37" y="575.83" width="7.00" height="7.00" fill="#111111"/><rect x="549.13" y="575.83" width="7.00" height="7.00" fill="#111111"/><rect x="555.88" y="575.83" width="7.00" height="7.00" fill="#111111"/><rect x="576.15" y="575.83" width="7.00" height="7.00" fill="#111111"/><rect x="272.20" y="582.58" width="7.00" height="7.00" fill="#666666"/><rect x="278.95" y="582.58" width="7.00" height="7.00" fill="#666666"/><rect x="292.46" y="582.58" width="7.00" height="7.00" fill="#333333"/><rect x="299.22" y="582.58" width="7.00" height="7.00" fill="#222222"/><rect x="305.97" y="582.58" width="7.00" height="7.00" fill="#eeeeee"/><rect x="312.73" y="582.58" width="7.00" height="7.00" fill="#444444"/><rect x="319.48" y="582.58" width="7.00" height="7.00" fill="#333333"/><rect x="326.23" y="582.58" width="7.00" height="7.00" fill="#333333"/><rect x="332.99" y="582.58" width="7.00" height="7.00" fill="#222222"/><rect x="339.74" y="582.58" width="7.00" height="7.00" fill="#555555"/><rect x="346.50" y="582.58" width="7.00" height="7.00" fill="#555555"/><rect x="353.25" y="582.58" width="7.00" height="7.00" fill="#333333"/><rect x="360.01" y="582.58" width="7.00" height="7.00" fill="#333333"/><rect x="366.76" y="582.58" width="7.00" height="7.00" fill="#333333"/><rect x="373.52" y="582.58" width="7.00" height="7.00" fill="#000000"/><rect x="380.27" y="582.58" width="7.00" height="7.00" fill="#cccccc"/><rect x="387.02" y="582.58" width="7.00" height="7.00" fill="#555555"/><rect x="393.78" y="582.58" width="7.00" height="7.00" fill="#222222"/><rect x="400.53" y="582.58" width="7.00" height="7.00" fill="#111111"/><rect x="407.29" y="582.58" width="7.00" height="7.00" fill="#6e6e6e"/><rect x="414.04" y="582.58" width="7.00" height="7.00" fill="#5e5e5e"/><rect x="420.80" y="582.58" width="7.00" height="7.00" fill="#888888"/><rect x="427.55" y="582.58" width="7.00" height="7.00" fill="#333333"/><rect x="434.30" y="582.58" width="7.00" height="7.00" fill="#aaaaaa"/><rect x="441.06" y="582.58" width="7.00" height="7.00" fill="#111111"/><rect x="447.81" y="582.58" width="7.00" height="7.00" fill="#333333"/><rect x="461.32" y="582.58" width="7.00" height="7.00" fill="#555555"/><rect x="468.08" y="582.58" width="7.00" height="7.00" fill="#777777"/><rect x="474.83" y="582.58" width="7.00" height="7.00" fill="#999999"/><rect x="481.58" y="582.58" width="7.00" height="7.00" fill="#888888"/><rect x="488.34" y="582.58" width="7.00" height="7.00" fill="#555555"/><rect x="495.09" y="582.58" width="7.00" height="7.00" fill="#111111"/><rect x="501.85" y="582.58" width="7.00" height="7.00" fill="#bbbbbb"/><rect x="508.60" y="582.58" width="7.00" height="7.00" fill="#222222"/><rect x="515.36" y="582.58" width="7.00" height="7.00" fill="#333333"/><rect x="522.11" y="582.58" width="7.00" height="7.00" fill="#444444"/><rect x="528.87" y="582.58" width="7.00" height="7.00" fill="#888888"/><rect x="535.62" y="582.58" width="7.00" height="7.00" fill="#444444"/><rect x="542.37" y="582.58" width="7.00" height="7.00" fill="#aaaaaa"/><rect x="549.13" y="582.58" width="7.00" height="7.00" fill="#777777"/><rect x="555.88" y="582.58" width="7.00" height="7.00" fill="#222222"/><rect x="562.64" y="582.58" width="7.00" height="7.00" fill="#666666"/><rect x="569.39" y="582.58" width="7.00" height="7.00" fill="#555555"/><rect x="576.15" y="582.58" width="7.00" height="7.00" fill="#999999"/><rect x="272.20" y="589.33" width="7.00" height="7.00" fill="#444444"/><rect x="278.95" y="589.33" width="7.00" height="7.00" fill="#555555"/><rect x="285.71" y="589.33" width="7.00" height="7.00" fill="#111111"/><rect x="292.46" y="589.33" width="7.00" height="7.00" fill="#444444"/><rect x="299.22" y="589.33" width="7.00" height="7.00" fill="#444444"/><rect x="305.97" y="589.33" width="7.00" height="7.00" fill="#bbbbbb"/><rect x="312.73" y="589.33" width="7.00" height="7.00" fill="#555555"/><rect x="319.48" y="589.33" width="7.00" height="7.00" fill="#333333"/><rect x="326.23" y="589.33" width="7.00" height="7.00" fill="#333333"/><rect x="332.99" y="589.33" width="7.00" height="7.00" fill="#222222"/><rect x="339.74" y="589.33" width="7.00" height="7.00" fill="#444444"/><rect x="346.50" y="589.33" width="7.00" height="7.00" fill="#666666"/><rect x="353.25" y="589.33" width="7.00" height="7.00" fill="#333333"/><rect x="360.01" y="589.33" width="7.00" height="7.00" fill="#333333"/><rect x="366.76" y="589.33" width="7.00" height="7.00" fill="#666666"/><rect x="373.52" y="589.33" width="7.00" height="7.00" fill="#cccccc"/><rect x="380.27" y="589.33" width="7.00" height="7.00" fill="#000000"/><rect x="387.02" y="589.33" width="7.00" height="7.00" fill="#aaaaaa"/><rect x="393.78" y="589.33" width="7.00" height="7.00" fill="#222222"/><rect x="400.53" y="589.33" width="7.00" height="7.00" fill="#222222"/><rect x="407.29" y="589.33" width="7.00" height="7.00" fill="#a2a2a2"/><rect x="414.04" y="589.33" width="7.00" height="7.00" fill="#777777"/><rect x="420.80" y="589.33" width="7.00" height="7.00" fill="#555555"/><rect x="427.55" y="589.33" width="7.00" height="7.00" fill="#333333"/><rect x="434.30" y="589.33" width="7.00" height="7.00" fill="#777777"/><rect x="441.06" y="589.33" width="7.00" height="7.00" fill="#222222"/><rect x="461.32" y="589.33" width="7.00" height="7.00" fill="#444444"/><rect x="468.08" y="589.33" width="7.00" height="7.00" fill="#555555"/><rect x="474.83" y="589.33" width="7.00" height="7.00" fill="#666666"/><rect x="481.58" y="589.33" width="7.00" height="7.00" fill="#666666"/><rect x="488.34" y="589.33" width="7.00" height="7.00" fill="#444444"/><rect x="495.09" y="589.33" width="7.00" height="7.00" fill="#333333"/><rect x="501.85" y="589.33" width="7.00" height="7.00" fill="#888888"/><rect x="508.60" y="589.33" width="7.00" height="7.00" fill="#333333"/><rect x="515.36" y="589.33" width="7.00" height="7.00" fill="#333333"/><rect x="522.11" y="589.33" width="7.00" height="7.00" fill="#444444"/><rect x="528.87" y="589.33" width="7.00" height="7.00" fill="#888888"/><rect x="535.62" y="589.33" width="7.00" height="7.00" fill="#333333"/><rect x="542.37" y="589.33" width="7.00" height="7.00" fill="#777777"/><rect x="549.13" y="589.33" width="7.00" height="7.00" fill="#777777"/><rect x="555.88" y="589.33" width="7.00" height="7.00" fill="#222222"/><rect x="562.64" y="589.33" width="7.00" height="7.00" fill="#333333"/><rect x="569.39" y="589.33" width="7.00" height="7.00" fill="#444444"/><rect x="576.15" y="589.33" width="7.00" height="7.00" fill="#555555"/><rect x="272.20" y="596.08" width="7.00" height="7.00" fill="#666666"/><rect x="278.95" y="596.08" width="7.00" height="7.00" fill="#777777"/><rect x="285.71" y="596.08" width="7.00" height="7.00" fill="#444444"/><rect x="292.46" y="596.08" width="7.00" height="7.00" fill="#444444"/><rect x="299.22" y="596.08" width="7.00" height="7.00" fill="#777777"/><rect x="305.97" y="596.08" width="7.00" height="7.00" fill="#555555"/><rect x="312.73" y="596.08" width="7.00" height="7.00" fill="#555555"/><rect x="319.48" y="596.08" width="7.00" height="7.00" fill="#444444"/><rect x="326.23" y="596.08" width="7.00" height="7.00" fill="#444444"/><rect x="332.99" y="596.08" width="7.00" height="7.00" fill="#111111"/><rect x="339.74" y="596.08" width="7.00" height="7.00" fill="#333333"/><rect x="346.50" y="596.08" width="7.00" height="7.00" fill="#666666"/><rect x="353.25" y="596.08" width="7.00" height="7.00" fill="#555555"/><rect x="360.01" y="596.08" width="7.00" height="7.00" fill="#333333"/><rect x="366.76" y="596.08" width="7.00" height="7.00" fill="#595959"/><rect x="373.52" y="596.08" width="7.00" height="7.00" fill="#555555"/><rect x="380.27" y="596.08" width="7.00" height="7.00" fill="#aaaaaa"/><rect x="387.02" y="596.08" width="7.00" height="7.00" fill="#000000"/><rect x="393.78" y="596.08" width="7.00" height="7.00" fill="#444444"/><rect x="400.53" y="596.08" width="7.00" height="7.00" fill="#444444"/><rect x="407.29" y="596.08" width="7.00" height="7.00" fill="#6e6e6e"/><rect x="414.04" y="596.08" width="7.00" height="7.00" fill="#444444"/><rect x="420.80" y="596.08" width="7.00" height="7.00" fill="#222222"/><rect x="427.55" y="596.08" width="7.00" height="7.00" fill="#111111"/><rect x="434.30" y="596.08" width="7.00" height="7.00" fill="#555555"/><rect x="441.06" y="596.08" width="7.00" height="7.00" fill="#111111"/><rect x="447.81" y="596.08" width="7.00" height="7.00" fill="#444444"/><rect x="454.57" y="596.08" width="7.00" height="7.00" fill="#444444"/><rect x="474.83" y="596.08" width="7.00" height="7.00" fill="#222222"/><rect x="481.58" y="596.08" width="7.00" height="7.00" fill="#666666"/><rect x="488.34" y="596.08" width="7.00" height="7.00" fill="#111111"/><rect x="495.09" y="596.08" width="7.00" height="7.00" fill="#555555"/><rect x="501.85" y="596.08" width="7.00" height="7.00" fill="#555555"/><rect x="508.60" y="596.08" width="7.00" height="7.00" fill="#444444"/><rect x="515.36" y="596.08" width="7.00" height="7.00" fill="#222222"/><rect x="522.11" y="596.08" width="7.00" height="7.00" fill="#333333"/><rect x="528.87" y="596.08" width="7.00" height="7.00" fill="#444444"/><rect x="535.62" y="596.08" width="7.00" height="7.00" fill="#666666"/><rect x="542.37" y="596.08" width="7.00" height="7.00" fill="#777777"/><rect x="549.13" y="596.08" width="7.00" height="7.00" fill="#777777"/><rect x="555.88" y="596.08" width="7.00" height="7.00" fill="#444444"/><rect x="562.64" y="596.08" width="7.00" height="7.00" fill="#444444"/><rect x="569.39" y="596.08" width="7.00" height="7.00" fill="#444444"/><rect x="576.15" y="596.08" width="7.00" height="7.00" fill="#111111"/><rect x="272.20" y="602.83" width="7.00" height="7.00" fill="#111111"/><rect x="278.95" y="602.83" width="7.00" height="7.00" fill="#444444"/><rect x="285.71" y="602.83" width="7.00" height="7.00" fill="#666666"/><rect x="292.46" y="602.83" width="7.00" height="7.00" fill="#888888"/><rect x="312.73" y="602.83" width="7.00" height="7.00" fill="#666666"/><rect x="319.48" y="602.83" width="7.00" height="7.00" fill="#888888"/><rect x="326.23" y="602.83" width="7.00" height="7.00" fill="#bbbbbb"/><rect x="332.99" y="602.83" width="7.00" height="7.00" fill="#999999"/><rect x="339.74" y="602.83" width="7.00" height="7.00" fill="#bbbbbb"/><rect x="346.50" y="602.83" width="7.00" height="7.00" fill="#999999"/><rect x="353.25" y="602.83" width="7.00" height="7.00" fill="#aaaaaa"/><rect x="360.01" y="602.83" width="7.00" height="7.00" fill="#555555"/><rect x="366.76" y="602.83" width="7.00" height="7.00" fill="#222222"/><rect x="373.52" y="602.83" width="7.00" height="7.00" fill="#222222"/><rect x="380.27" y="602.83" width="7.00" height="7.00" fill="#222222"/><rect x="387.02" y="602.83" width="7.00" height="7.00" fill="#444444"/><rect x="393.78" y="602.83" width="7.00" height="7.00" fill="#000000"/><rect x="400.53" y="602.83" width="7.00" height="7.00" fill="#dddddd"/><rect x="407.29" y="602.83" width="7.00" height="7.00" fill="#333333"/><rect x="414.04" y="602.83" width="7.00" height="7.00" fill="#4c4c4c"/><rect x="420.80" y="602.83" width="7.00" height="7.00" fill="#222222"/><rect x="427.55" y="602.83" width="7.00" height="7.00" fill="#1a1a1a"/><rect x="434.30" y="602.83" width="7.00" height="7.00" fill="#444444"/><rect x="441.06" y="602.83" width="7.00" height="7.00" fill="#111111"/><rect x="447.81" y="602.83" width="7.00" height="7.00" fill="#555555"/><rect x="454.57" y="602.83" width="7.00" height="7.00" fill="#333333"/><rect x="461.32" y="602.83" width="7.00" height="7.00" fill="#555555"/><rect x="468.08" y="602.83" width="7.00" height="7.00" fill="#999999"/><rect x="474.83" y="602.83" width="7.00" height="7.00" fill="#333333"/><rect x="481.58" y="602.83" width="7.00" height="7.00" fill="#444444"/><rect x="488.34" y="602.83" width="7.00" height="7.00" fill="#222222"/><rect x="495.09" y="602.83" width="7.00" height="7.00" fill="#222222"/><rect x="501.85" y="602.83" width="7.00" height="7.00" fill="#222222"/><rect x="528.87" y="602.83" width="7.00" height="7.00" fill="#222222"/><rect x="535.62" y="602.83" width="7.00" height="7.00" fill="#222222"/><rect x="542.37" y="602.83" width="7.00" height="7.00" fill="#222222"/><rect x="549.13" y="602.83" width="7.00" height="7.00" fill="#333333"/><rect x="555.88" y="602.83" width="7.00" height="7.00" fill="#111111"/><rect x="562.64" y="602.83" width="7.00" height="7.00" fill="#222222"/><rect x="569.39" y="602.83" width="7.00" height="7.00" fill="#333333"/><rect x="576.15" y="602.83" width="7.00" height="7.00" fill="#222222"/><rect x="272.20" y="609.58" width="7.00" height="7.00" fill="#111111"/><rect x="278.95" y="609.58" width="7.00" height="7.00" fill="#333333"/><rect x="285.71" y="609.58" width="7.00" height="7.00" fill="#666666"/><rect x="292.46" y="609.58" width="7.00" height="7.00" fill="#888888"/><rect x="299.22" y="609.58" width="7.00" height="7.00" fill="#222222"/><rect x="305.97" y="609.58" width="7.00" height="7.00" fill="#111111"/><rect x="312.73" y="609.58" width="7.00" height="7.00" fill="#777777"/><rect x="319.48" y="609.58" width="7.00" height="7.00" fill="#888888"/><rect x="326.23" y="609.58" width="7.00" height="7.00" fill="#aaaaaa"/><rect x="332.99" y="609.58" width="7.00" height="7.00" fill="#cccccc"/><rect x="339.74" y="609.58" width="7.00" height="7.00" fill="#cccccc"/><rect x="346.50" y="609.58" width="7.00" height="7.00" fill="#aaaaaa"/><rect x="353.25" y="609.58" width="7.00" height="7.00" fill="#bbbbbb"/><rect x="360.01" y="609.58" width="7.00" height="7.00" fill="#999999"/><rect x="373.52" y="609.58" width="7.00" height="7.00" fill="#111111"/><rect x="380.27" y="609.58" width="7.00" height="7.00" fill="#222222"/><rect x="387.02" y="609.58" width="7.00" height="7.00" fill="#444444"/><rect x="393.78" y="609.58" width="7.00" height="7.00" fill="#dddddd"/><rect x="400.53" y="609.58" width="7.00" height="7.00" fill="#000000"/><rect x="407.29" y="609.58" width="7.00" height="7.00" fill="#3c3c3c"/><rect x="414.04" y="609.58" width="7.00" height="7.00" fill="#666666"/><rect x="427.55" y="609.58" width="7.00" height="7.00" fill="#555555"/><rect x="434.30" y="609.58" width="7.00" height="7.00" fill="#333333"/><rect x="441.06" y="609.58" width="7.00" height="7.00" fill="#222222"/><rect x="447.81" y="609.58" width="7.00" height="7.00" fill="#555555"/><rect x="454.57" y="609.58" width="7.00" height="7.00" fill="#111111"/><rect x="461.32" y="609.58" width="7.00" height="7.00" fill="#777777"/><rect x="468.08" y="609.58" width="7.00" height="7.00" fill="#aaaaaa"/><rect x="474.83" y="609.58" width="7.00" height="7.00" fill="#111111"/><rect x="481.58" y="609.58" width="7.00" height="7.00" fill="#444444"/><rect x="488.34" y="609.58" width="7.00" height="7.00" fill="#333333"/><rect x="495.09" y="609.58" width="7.00" height="7.00" fill="#222222"/><rect x="501.85" y="609.58" width="7.00" height="7.00" fill="#111111"/><rect x="508.60" y="609.58" width="7.00" height="7.00" fill="#222222"/><rect x="528.87" y="609.58" width="7.00" height="7.00" fill="#111111"/><rect x="535.62" y="609.58" width="7.00" height="7.00" fill="#333333"/><rect x="542.37" y="609.58" width="7.00" height="7.00" fill="#111111"/><rect x="549.13" y="609.58" width="7.00" height="7.00" fill="#333333"/><rect x="555.88" y="609.58" width="7.00" height="7.00" fill="#111111"/><rect x="562.64" y="609.58" width="7.00" height="7.00" fill="#222222"/><rect x="569.39" y="609.58" width="7.00" height="7.00" fill="#444444"/><rect x="272.20" y="616.33" width="7.00" height="7.00" fill="#222222"/><rect x="278.95" y="616.33" width="7.00" height="7.00" fill="#333333"/><rect x="285.71" y="616.33" width="7.00" height="7.00" fill="#888888"/><rect x="292.46" y="616.33" width="7.00" height="7.00" fill="#444444"/><rect x="299.22" y="616.33" width="7.00" height="7.00" fill="#666666"/><rect x="305.97" y="616.33" width="7.00" height="7.00" fill="#555555"/><rect x="312.73" y="616.33" width="7.00" height="7.00" fill="#333333"/><rect x="319.48" y="616.33" width="7.00" height="7.00" fill="#111111"/><rect x="332.99" y="616.33" width="7.00" height="7.00" fill="#111111"/><rect x="339.74" y="616.33" width="7.00" height="7.00" fill="#222222"/><rect x="346.50" y="616.33" width="7.00" height="7.00" fill="#666666"/><rect x="353.25" y="616.33" width="7.00" height="7.00" fill="#222222"/><rect x="360.01" y="616.33" width="7.00" height="7.00" fill="#333333"/><rect x="366.76" y="616.33" width="7.00" height="7.00" fill="#b7b7b7"/><rect x="373.52" y="616.33" width="7.00" height="7.00" fill="#6a6a6a"/><rect x="380.27" y="616.33" width="7.00" height="7.00" fill="#a6a6a6"/><rect x="387.02" y="616.33" width="7.00" height="7.00" fill="#6a6a6a"/><rect x="393.78" y="616.33" width="7.00" height="7.00" fill="#333333"/><rect x="400.53" y="616.33" width="7.00" height="7.00" fill="#373737"/><rect x="407.29" y="616.33" width="7.00" height="7.00" fill="#000000"/><rect x="414.04" y="616.33" width="7.00" height="7.00" fill="#cccccc"/><rect x="420.80" y="616.33" width="7.00" height="7.00" fill="#666666"/><rect x="427.55" y="616.33" width="7.00" height="7.00" fill="#2a2a2a"/><rect x="434.30" y="616.33" width="7.00" height="7.00" fill="#111111"/><rect x="441.06" y="616.33" width="7.00" height="7.00" fill="#111111"/><rect x="454.57" y="616.33" width="7.00" height="7.00" fill="#111111"/><rect x="461.32" y="616.33" width="7.00" height="7.00" fill="#333333"/><rect x="468.08" y="616.33" width="7.00" height="7.00" fill="#666666"/><rect x="474.83" y="616.33" width="7.00" height="7.00" fill="#777777"/><rect x="481.58" y="616.33" width="7.00" height="7.00" fill="#555555"/><rect x="488.34" y="616.33" width="7.00" height="7.00" fill="#444444"/><rect x="495.09" y="616.33" width="7.00" height="7.00" fill="#222222"/><rect x="501.85" y="616.33" width="7.00" height="7.00" fill="#aaaaaa"/><rect x="508.60" y="616.33" width="7.00" height="7.00" fill="#555555"/><rect x="515.36" y="616.33" width="7.00" height="7.00" fill="#777777"/><rect x="522.11" y="616.33" width="7.00" height="7.00" fill="#cccccc"/><rect x="528.87" y="616.33" width="7.00" height="7.00" fill="#cccccc"/><rect x="535.62" y="616.33" width="7.00" height="7.00" fill="#222222"/><rect x="542.37" y="616.33" width="7.00" height="7.00" fill="#222222"/><rect x="555.88" y="616.33" width="7.00" height="7.00" fill="#111111"/><rect x="576.15" y="616.33" width="7.00" height="7.00" fill="#666666"/><rect x="272.20" y="623.08" width="7.00" height="7.00" fill="#111111"/><rect x="278.95" y="623.08" width="7.00" height="7.00" fill="#555555"/><rect x="285.71" y="623.08" width="7.00" height="7.00" fill="#777777"/><rect x="292.46" y="623.08" width="7.00" height="7.00" fill="#777777"/><rect x="299.22" y="623.08" width="7.00" height="7.00" fill="#333333"/><rect x="305.97" y="623.08" width="7.00" height="7.00" fill="#333333"/><rect x="312.73" y="623.08" width="7.00" height="7.00" fill="#555555"/><rect x="319.48" y="623.08" width="7.00" height="7.00" fill="#666666"/><rect x="326.23" y="623.08" width="7.00" height="7.00" fill="#555555"/><rect x="332.99" y="623.08" width="7.00" height="7.00" fill="#555555"/><rect x="339.74" y="623.08" width="7.00" height="7.00" fill="#555555"/><rect x="346.50" y="623.08" width="7.00" height="7.00" fill="#cccccc"/><rect x="353.25" y="623.08" width="7.00" height="7.00" fill="#666666"/><rect x="360.01" y="623.08" width="7.00" height="7.00" fill="#666666"/><rect x="366.76" y="623.08" width="7.00" height="7.00" fill="#999999"/><rect x="373.52" y="623.08" width="7.00" height="7.00" fill="#595959"/><rect x="380.27" y="623.08" width="7.00" height="7.00" fill="#777777"/><rect x="387.02" y="623.08" width="7.00" height="7.00" fill="#444444"/><rect x="393.78" y="623.08" width="7.00" height="7.00" fill="#484848"/><rect x="400.53" y="623.08" width="7.00" height="7.00" fill="#666666"/><rect x="407.29" y="623.08" width="7.00" height="7.00" fill="#cccccc"/><rect x="414.04" y="623.08" width="7.00" height="7.00" fill="#000000"/><rect x="420.80" y="623.08" width="7.00" height="7.00" fill="#222222"/><rect x="427.55" y="623.08" width="7.00" height="7.00" fill="#444444"/><rect x="441.06" y="623.08" width="7.00" height="7.00" fill="#222222"/><rect x="447.81" y="623.08" width="7.00" height="7.00" fill="#222222"/><rect x="454.57" y="623.08" width="7.00" height="7.00" fill="#111111"/><rect x="468.08" y="623.08" width="7.00" height="7.00" fill="#666666"/><rect x="474.83" y="623.08" width="7.00" height="7.00" fill="#333333"/><rect x="481.58" y="623.08" width="7.00" height="7.00" fill="#555555"/><rect x="488.34" y="623.08" width="7.00" height="7.00" fill="#444444"/><rect x="495.09" y="623.08" width="7.00" height="7.00" fill="#444444"/><rect x="501.85" y="623.08" width="7.00" height="7.00" fill="#555555"/><rect x="508.60" y="623.08" width="7.00" height="7.00" fill="#666666"/><rect x="515.36" y="623.08" width="7.00" height="7.00" fill="#555555"/><rect x="522.11" y="623.08" width="7.00" height="7.00" fill="#aaaaaa"/><rect x="528.87" y="623.08" width="7.00" height="7.00" fill="#cccccc"/><rect x="535.62" y="623.08" width="7.00" height="7.00" fill="#111111"/><rect x="542.37" y="623.08" width="7.00" height="7.00" fill="#111111"/><rect x="549.13" y="623.08" width="7.00" height="7.00" fill="#111111"/><rect x="555.88" y="623.08" width="7.00" height="7.00" fill="#111111"/><rect x="562.64" y="623.08" width="7.00" height="7.00" fill="#111111"/><rect x="569.39" y="623.08" width="7.00" height="7.00" fill="#222222"/><rect x="576.15" y="623.08" width="7.00" height="7.00" fill="#222222"/><rect x="272.20" y="629.83" width="7.00" height="7.00" fill="#333333"/><rect x="278.95" y="629.83" width="7.00" height="7.00" fill="#222222"/><rect x="285.71" y="629.83" width="7.00" height="7.00" fill="#111111"/><rect x="292.46" y="629.83" width="7.00" height="7.00" fill="#111111"/><rect x="299.22" y="629.83" width="7.00" height="7.00" fill="#111111"/><rect x="305.97" y="629.83" width="7.00" height="7.00" fill="#777777"/><rect x="312.73" y="629.83" width="7.00" height="7.00" fill="#222222"/><rect x="332.99" y="629.83" width="7.00" height="7.00" fill="#111111"/><rect x="339.74" y="629.83" width="7.00" height="7.00" fill="#111111"/><rect x="353.25" y="629.83" width="7.00" height="7.00" fill="#111111"/><rect x="360.01" y="629.83" width="7.00" height="7.00" fill="#111111"/><rect x="366.76" y="629.83" width="7.00" height="7.00" fill="#111111"/><rect x="373.52" y="629.83" width="7.00" height="7.00" fill="#888888"/><rect x="380.27" y="629.83" width="7.00" height="7.00" fill="#555555"/><rect x="387.02" y="629.83" width="7.00" height="7.00" fill="#222222"/><rect x="393.78" y="629.83" width="7.00" height="7.00" fill="#222222"/><rect x="407.29" y="629.83" width="7.00" height="7.00" fill="#666666"/><rect x="414.04" y="629.83" width="7.00" height="7.00" fill="#222222"/><rect x="420.80" y="629.83" width="7.00" height="7.00" fill="#000000"/><rect x="427.55" y="629.83" width="7.00" height="7.00" fill="#111111"/><rect x="434.30" y="629.83" width="7.00" height="7.00" fill="#444444"/><rect x="441.06" y="629.83" width="7.00" height="7.00" fill="#222222"/><rect x="454.57" y="629.83" width="7.00" height="7.00" fill="#111111"/><rect x="461.32" y="629.83" width="7.00" height="7.00" fill="#333333"/><rect x="468.08" y="629.83" width="7.00" height="7.00" fill="#555555"/><rect x="474.83" y="629.83" width="7.00" height="7.00" fill="#dddddd"/><rect x="481.58" y="629.83" width="7.00" height="7.00" fill="#444444"/><rect x="495.09" y="629.83" width="7.00" height="7.00" fill="#222222"/><rect x="501.85" y="629.83" width="7.00" height="7.00" fill="#dddddd"/><rect x="508.60" y="629.83" width="7.00" height="7.00" fill="#222222"/><rect x="515.36" y="629.83" width="7.00" height="7.00" fill="#333333"/><rect x="522.11" y="629.83" width="7.00" height="7.00" fill="#555555"/><rect x="528.87" y="629.83" width="7.00" height="7.00" fill="#aaaaaa"/><rect x="535.62" y="629.83" width="7.00" height="7.00" fill="#111111"/><rect x="542.37" y="629.83" width="7.00" height="7.00" fill="#555555"/><rect x="549.13" y="629.83" width="7.00" height="7.00" fill="#333333"/><rect x="555.88" y="629.83" width="7.00" height="7.00" fill="#111111"/><rect x="562.64" y="629.83" width="7.00" height="7.00" fill="#222222"/><rect x="569.39" y="629.83" width="7.00" height="7.00" fill="#111111"/><rect x="576.15" y="629.83" width="7.00" height="7.00" fill="#ffffff"/><rect x="272.20" y="636.58" width="7.00" height="7.00" fill="#444444"/><rect x="278.95" y="636.58" width="7.00" height="7.00" fill="#333333"/><rect x="285.71" y="636.58" width="7.00" height="7.00" fill="#444444"/><rect x="292.46" y="636.58" width="7.00" height="7.00" fill="#444444"/><rect x="299.22" y="636.58" width="7.00" height="7.00" fill="#111111"/><rect x="305.97" y="636.58" width="7.00" height="7.00" fill="#444444"/><rect x="312.73" y="636.58" width="7.00" height="7.00" fill="#555555"/><rect x="319.48" y="636.58" width="7.00" height="7.00" fill="#111111"/><rect x="326.23" y="636.58" width="7.00" height="7.00" fill="#111111"/><rect x="332.99" y="636.58" width="7.00" height="7.00" fill="#555555"/><rect x="339.74" y="636.58" width="7.00" height="7.00" fill="#555555"/><rect x="346.50" y="636.58" width="7.00" height="7.00" fill="#666666"/><rect x="353.25" y="636.58" width="7.00" height="7.00" fill="#222222"/><rect x="360.01" y="636.58" width="7.00" height="7.00" fill="#7b7b7b"/><rect x="366.76" y="636.58" width="7.00" height="7.00" fill="#151515"/><rect x="373.52" y="636.58" width="7.00" height="7.00" fill="#333333"/><rect x="380.27" y="636.58" width="7.00" height="7.00" fill="#333333"/><rect x="387.02" y="636.58" width="7.00" height="7.00" fill="#111111"/><rect x="393.78" y="636.58" width="7.00" height="7.00" fill="#151515"/><rect x="400.53" y="636.58" width="7.00" height="7.00" fill="#555555"/><rect x="407.29" y="636.58" width="7.00" height="7.00" fill="#2f2f2f"/><rect x="414.04" y="636.58" width="7.00" height="7.00" fill="#444444"/><rect x="420.80" y="636.58" width="7.00" height="7.00" fill="#111111"/><rect x="427.55" y="636.58" width="7.00" height="7.00" fill="#000000"/><rect x="434.30" y="636.58" width="7.00" height="7.00" fill="#444444"/><rect x="441.06" y="636.58" width="7.00" height="7.00" fill="#aaaaaa"/><rect x="447.81" y="636.58" width="7.00" height="7.00" fill="#333333"/><rect x="454.57" y="636.58" width="7.00" height="7.00" fill="#333333"/><rect x="461.32" y="636.58" width="7.00" height="7.00" fill="#666666"/><rect x="468.08" y="636.58" width="7.00" height="7.00" fill="#666666"/><rect x="474.83" y="636.58" width="7.00" height="7.00" fill="#111111"/><rect x="481.58" y="636.58" width="7.00" height="7.00" fill="#666666"/><rect x="488.34" y="636.58" width="7.00" height="7.00" fill="#aaaaaa"/><rect x="495.09" y="636.58" width="7.00" height="7.00" fill="#333333"/><rect x="501.85" y="636.58" width="7.00" height="7.00" fill="#111111"/><rect x="508.60" y="636.58" width="7.00" height="7.00" fill="#666666"/><rect x="515.36" y="636.58" width="7.00" height="7.00" fill="#444444"/><rect x="522.11" y="636.58" width="7.00" height="7.00" fill="#222222"/><rect x="528.87" y="636.58" width="7.00" height="7.00" fill="#111111"/><rect x="535.62" y="636.58" width="7.00" height="7.00" fill="#222222"/><rect x="542.37" y="636.58" width="7.00" height="7.00" fill="#555555"/><rect x="549.13" y="636.58" width="7.00" height="7.00" fill="#555555"/><rect x="555.88" y="636.58" width="7.00" height="7.00" fill="#444444"/><rect x="562.64" y="636.58" width="7.00" height="7.00" fill="#444444"/><rect x="569.39" y="636.58" width="7.00" height="7.00" fill="#333333"/><rect x="272.20" y="643.32" width="7.00" height="7.00" fill="#bbbbbb"/><rect x="278.95" y="643.32" width="7.00" height="7.00" fill="#999999"/><rect x="285.71" y="643.32" width="7.00" height="7.00" fill="#222222"/><rect x="292.46" y="643.32" width="7.00" height="7.00" fill="#111111"/><rect x="299.22" y="643.32" width="7.00" height="7.00" fill="#444444"/><rect x="305.97" y="643.32" width="7.00" height="7.00" fill="#dddddd"/><rect x="312.73" y="643.32" width="7.00" height="7.00" fill="#444444"/><rect x="332.99" y="643.32" width="7.00" height="7.00" fill="#111111"/><rect x="353.25" y="643.32" width="7.00" height="7.00" fill="#111111"/><rect x="360.01" y="643.32" width="7.00" height="7.00" fill="#111111"/><rect x="366.76" y="643.32" width="7.00" height="7.00" fill="#111111"/><rect x="373.52" y="643.32" width="7.00" height="7.00" fill="#aaaaaa"/><rect x="380.27" y="643.32" width="7.00" height="7.00" fill="#777777"/><rect x="387.02" y="643.32" width="7.00" height="7.00" fill="#555555"/><rect x="393.78" y="643.32" width="7.00" height="7.00" fill="#444444"/><rect x="400.53" y="643.32" width="7.00" height="7.00" fill="#333333"/><rect x="407.29" y="643.32" width="7.00" height="7.00" fill="#111111"/><rect x="420.80" y="643.32" width="7.00" height="7.00" fill="#444444"/><rect x="427.55" y="643.32" width="7.00" height="7.00" fill="#444444"/><rect x="434.30" y="643.32" width="7.00" height="7.00" fill="#000000"/><rect x="441.06" y="643.32" width="7.00" height="7.00" fill="#444444"/><rect x="447.81" y="643.32" width="7.00" height="7.00" fill="#999999"/><rect x="454.57" y="643.32" width="7.00" height="7.00" fill="#888888"/><rect x="461.32" y="643.32" width="7.00" height="7.00" fill="#111111"/><rect x="474.83" y="643.32" width="7.00" height="7.00" fill="#333333"/><rect x="481.58" y="643.32" width="7.00" height="7.00" fill="#777777"/><rect x="488.34" y="643.32" width="7.00" height="7.00" fill="#444444"/><rect x="495.09" y="643.32" width="7.00" height="7.00" fill="#222222"/><rect x="501.85" y="643.32" width="7.00" height="7.00" fill="#555555"/><rect x="508.60" y="643.32" width="7.00" height="7.00" fill="#333333"/><rect x="515.36" y="643.32" width="7.00" height="7.00" fill="#333333"/><rect x="528.87" y="643.32" width="7.00" height="7.00" fill="#222222"/><rect x="535.62" y="643.32" width="7.00" height="7.00" fill="#aaaaaa"/><rect x="542.37" y="643.32" width="7.00" height="7.00" fill="#bbbbbb"/><rect x="549.13" y="643.32" width="7.00" height="7.00" fill="#999999"/><rect x="555.88" y="643.32" width="7.00" height="7.00" fill="#666666"/><rect x="562.64" y="643.32" width="7.00" height="7.00" fill="#999999"/><rect x="569.39" y="643.32" width="7.00" height="7.00" fill="#666666"/><rect x="576.15" y="643.32" width="7.00" height="7.00" fill="#333333"/><rect x="272.20" y="650.07" width="7.00" height="7.00" fill="#777777"/><rect x="278.95" y="650.07" width="7.00" height="7.00" fill="#222222"/><rect x="305.97" y="650.07" width="7.00" height="7.00" fill="#222222"/><rect x="312.73" y="650.07" width="7.00" height="7.00" fill="#555555"/><rect x="326.23" y="650.07" width="7.00" height="7.00" fill="#111111"/><rect x="346.50" y="650.07" width="7.00" height="7.00" fill="#222222"/><rect x="360.01" y="650.07" width="7.00" height="7.00" fill="#333333"/><rect x="366.76" y="650.07" width="7.00" height="7.00" fill="#111111"/><rect x="373.52" y="650.07" width="7.00" height="7.00" fill="#111111"/><rect x="380.27" y="650.07" width="7.00" height="7.00" fill="#222222"/><rect x="387.02" y="650.07" width="7.00" height="7.00" fill="#111111"/><rect x="393.78" y="650.07" width="7.00" height="7.00" fill="#111111"/><rect x="400.53" y="650.07" width="7.00" height="7.00" fill="#222222"/><rect x="407.29" y="650.07" width="7.00" height="7.00" fill="#111111"/><rect x="414.04" y="650.07" width="7.00" height="7.00" fill="#222222"/><rect x="420.80" y="650.07" width="7.00" height="7.00" fill="#222222"/><rect x="427.55" y="650.07" width="7.00" height="7.00" fill="#aaaaaa"/><rect x="434.30" y="650.07" width="7.00" height="7.00" fill="#444444"/><rect x="441.06" y="650.07" width="7.00" height="7.00" fill="#000000"/><rect x="447.81" y="650.07" width="7.00" height="7.00" fill="#888888"/><rect x="454.57" y="650.07" width="7.00" height="7.00" fill="#999999"/><rect x="461.32" y="650.07" width="7.00" height="7.00" fill="#333333"/><rect x="468.08" y="650.07" width="7.00" height="7.00" fill="#333333"/><rect x="474.83" y="650.07" width="7.00" height="7.00" fill="#111111"/><rect x="481.58" y="650.07" width="7.00" height="7.00" fill="#777777"/><rect x="488.34" y="650.07" width="7.00" height="7.00" fill="#888888"/><rect x="495.09" y="650.07" width="7.00" height="7.00" fill="#777777"/><rect x="508.60" y="650.07" width="7.00" height="7.00" fill="#666666"/><rect x="515.36" y="650.07" width="7.00" height="7.00" fill="#222222"/><rect x="522.11" y="650.07" width="7.00" height="7.00" fill="#111111"/><rect x="535.62" y="650.07" width="7.00" height="7.00" fill="#333333"/><rect x="542.37" y="650.07" width="7.00" height="7.00" fill="#444444"/><rect x="549.13" y="650.07" width="7.00" height="7.00" fill="#333333"/><rect x="555.88" y="650.07" width="7.00" height="7.00" fill="#777777"/><rect x="562.64" y="650.07" width="7.00" height="7.00" fill="#333333"/><rect x="569.39" y="650.07" width="7.00" height="7.00" fill="#333333"/><rect x="576.15" y="650.07" width="7.00" height="7.00" fill="#222222"/><rect x="272.20" y="656.82" width="7.00" height="7.00" fill="#bbbbbb"/><rect x="278.95" y="656.82" width="7.00" height="7.00" fill="#888888"/><rect x="285.71" y="656.82" width="7.00" height="7.00" fill="#111111"/><rect x="299.22" y="656.82" width="7.00" height="7.00" fill="#666666"/><rect x="305.97" y="656.82" width="7.00" height="7.00" fill="#777777"/><rect x="312.73" y="656.82" width="7.00" height="7.00" fill="#111111"/><rect x="319.48" y="656.82" width="7.00" height="7.00" fill="#222222"/><rect x="326.23" y="656.82" width="7.00" height="7.00" fill="#222222"/><rect x="332.99" y="656.82" width="7.00" height="7.00" fill="#444444"/><rect x="339.74" y="656.82" width="7.00" height="7.00" fill="#333333"/><rect x="346.50" y="656.82" width="7.00" height="7.00" fill="#222222"/><rect x="353.25" y="656.82" width="7.00" height="7.00" fill="#333333"/><rect x="366.76" y="656.82" width="7.00" height="7.00" fill="#444444"/><rect x="373.52" y="656.82" width="7.00" height="7.00" fill="#333333"/><rect x="387.02" y="656.82" width="7.00" height="7.00" fill="#444444"/><rect x="393.78" y="656.82" width="7.00" height="7.00" fill="#555555"/><rect x="400.53" y="656.82" width="7.00" height="7.00" fill="#555555"/><rect x="414.04" y="656.82" width="7.00" height="7.00" fill="#222222"/><rect x="427.55" y="656.82" width="7.00" height="7.00" fill="#333333"/><rect x="434.30" y="656.82" width="7.00" height="7.00" fill="#999999"/><rect x="441.06" y="656.82" width="7.00" height="7.00" fill="#888888"/><rect x="447.81" y="656.82" width="7.00" height="7.00" fill="#000000"/><rect x="454.57" y="656.82" width="7.00" height="7.00" fill="#dddddd"/><rect x="461.32" y="656.82" width="7.00" height="7.00" fill="#111111"/><rect x="468.08" y="656.82" width="7.00" height="7.00" fill="#333333"/><rect x="474.83" y="656.82" width="7.00" height="7.00" fill="#111111"/><rect x="481.58" y="656.82" width="7.00" height="7.00" fill="#808080"/><rect x="488.34" y="656.82" width="7.00" height="7.00" fill="#444444"/><rect x="495.09" y="656.82" width="7.00" height="7.00" fill="#444444"/><rect x="501.85" y="656.82" width="7.00" height="7.00" fill="#222222"/><rect x="508.60" y="656.82" width="7.00" height="7.00" fill="#555555"/><rect x="515.36" y="656.82" width="7.00" height="7.00" fill="#555555"/><rect x="522.11" y="656.82" width="7.00" height="7.00" fill="#333333"/><rect x="535.62" y="656.82" width="7.00" height="7.00" fill="#cccccc"/><rect x="542.37" y="656.82" width="7.00" height="7.00" fill="#888888"/><rect x="549.13" y="656.82" width="7.00" height="7.00" fill="#444444"/><rect x="555.88" y="656.82" width="7.00" height="7.00" fill="#777777"/><rect x="562.64" y="656.82" width="7.00" height="7.00" fill="#666666"/><rect x="569.39" y="656.82" width="7.00" height="7.00" fill="#444444"/><rect x="576.15" y="656.82" width="7.00" height="7.00" fill="#111111"/><rect x="272.20" y="663.57" width="7.00" height="7.00" fill="#bbbbbb"/><rect x="278.95" y="663.57" width="7.00" height="7.00" fill="#555555"/><rect x="299.22" y="663.57" width="7.00" height="7.00" fill="#222222"/><rect x="305.97" y="663.57" width="7.00" height="7.00" fill="#333333"/><rect x="312.73" y="663.57" width="7.00" height="7.00" fill="#333333"/><rect x="332.99" y="663.57" width="7.00" height="7.00" fill="#222222"/><rect x="339.74" y="663.57" width="7.00" height="7.00" fill="#222222"/><rect x="353.25" y="663.57" width="7.00" height="7.00" fill="#111111"/><rect x="360.01" y="663.57" width="7.00" height="7.00" fill="#111111"/><rect x="366.76" y="663.57" width="7.00" height="7.00" fill="#222222"/><rect x="387.02" y="663.57" width="7.00" height="7.00" fill="#444444"/><rect x="393.78" y="663.57" width="7.00" height="7.00" fill="#333333"/><rect x="400.53" y="663.57" width="7.00" height="7.00" fill="#111111"/><rect x="407.29" y="663.57" width="7.00" height="7.00" fill="#111111"/><rect x="414.04" y="663.57" width="7.00" height="7.00" fill="#111111"/><rect x="420.80" y="663.57" width="7.00" height="7.00" fill="#111111"/><rect x="427.55" y="663.57" width="7.00" height="7.00" fill="#333333"/><rect x="434.30" y="663.57" width="7.00" height="7.00" fill="#909090"/><rect x="441.06" y="663.57" width="7.00" height="7.00" fill="#999999"/><rect x="447.81" y="663.57" width="7.00" height="7.00" fill="#dddddd"/><rect x="454.57" y="663.57" width="7.00" height="7.00" fill="#000000"/><rect x="461.32" y="663.57" width="7.00" height="7.00" fill="#222222"/><rect x="468.08" y="663.57" width="7.00" height="7.00" fill="#1a1a1a"/><rect x="474.83" y="663.57" width="7.00" height="7.00" fill="#222222"/><rect x="481.58" y="663.57" width="7.00" height="7.00" fill="#777777"/><rect x="488.34" y="663.57" width="7.00" height="7.00" fill="#444444"/><rect x="495.09" y="663.57" width="7.00" height="7.00" fill="#444444"/><rect x="501.85" y="663.57" width="7.00" height="7.00" fill="#111111"/><rect x="508.60" y="663.57" width="7.00" height="7.00" fill="#555555"/><rect x="515.36" y="663.57" width="7.00" height="7.00" fill="#444444"/><rect x="522.11" y="663.57" width="7.00" height="7.00" fill="#222222"/><rect x="528.87" y="663.57" width="7.00" height="7.00" fill="#111111"/><rect x="535.62" y="663.57" width="7.00" height="7.00" fill="#999999"/><rect x="542.37" y="663.57" width="7.00" height="7.00" fill="#999999"/><rect x="549.13" y="663.57" width="7.00" height="7.00" fill="#777777"/><rect x="555.88" y="663.57" width="7.00" height="7.00" fill="#aaaaaa"/><rect x="562.64" y="663.57" width="7.00" height="7.00" fill="#888888"/><rect x="569.39" y="663.57" width="7.00" height="7.00" fill="#666666"/><rect x="576.15" y="663.57" width="7.00" height="7.00" fill="#111111"/><rect x="272.20" y="670.32" width="7.00" height="7.00" fill="#333333"/><rect x="292.46" y="670.32" width="7.00" height="7.00" fill="#111111"/><rect x="299.22" y="670.32" width="7.00" height="7.00" fill="#222222"/><rect x="305.97" y="670.32" width="7.00" height="7.00" fill="#333333"/><rect x="312.73" y="670.32" width="7.00" height="7.00" fill="#222222"/><rect x="326.23" y="670.32" width="7.00" height="7.00" fill="#111111"/><rect x="332.99" y="670.32" width="7.00" height="7.00" fill="#333333"/><rect x="339.74" y="670.32" width="7.00" height="7.00" fill="#555555"/><rect x="346.50" y="670.32" width="7.00" height="7.00" fill="#222222"/><rect x="353.25" y="670.32" width="7.00" height="7.00" fill="#111111"/><rect x="360.01" y="670.32" width="7.00" height="7.00" fill="#222222"/><rect x="366.76" y="670.32" width="7.00" height="7.00" fill="#111111"/><rect x="373.52" y="670.32" width="7.00" height="7.00" fill="#555555"/><rect x="380.27" y="670.32" width="7.00" height="7.00" fill="#444444"/><rect x="393.78" y="670.32" width="7.00" height="7.00" fill="#555555"/><rect x="400.53" y="670.32" width="7.00" height="7.00" fill="#777777"/><rect x="407.29" y="670.32" width="7.00" height="7.00" fill="#333333"/><rect x="420.80" y="670.32" width="7.00" height="7.00" fill="#333333"/><rect x="427.55" y="670.32" width="7.00" height="7.00" fill="#666666"/><rect x="434.30" y="670.32" width="7.00" height="7.00" fill="#111111"/><rect x="441.06" y="670.32" width="7.00" height="7.00" fill="#333333"/><rect x="447.81" y="670.32" width="7.00" height="7.00" fill="#111111"/><rect x="454.57" y="670.32" width="7.00" height="7.00" fill="#222222"/><rect x="461.32" y="670.32" width="7.00" height="7.00" fill="#000000"/><rect x="468.08" y="670.32" width="7.00" height="7.00" fill="#cccccc"/><rect x="474.83" y="670.32" width="7.00" height="7.00" fill="#555555"/><rect x="481.58" y="670.32" width="7.00" height="7.00" fill="#555555"/><rect x="488.34" y="670.32" width="7.00" height="7.00" fill="#666666"/><rect x="495.09" y="670.32" width="7.00" height="7.00" fill="#333333"/><rect x="501.85" y="670.32" width="7.00" height="7.00" fill="#444444"/><rect x="528.87" y="670.32" width="7.00" height="7.00" fill="#222222"/><rect x="535.62" y="670.32" width="7.00" height="7.00" fill="#111111"/><rect x="542.37" y="670.32" width="7.00" height="7.00" fill="#555555"/><rect x="549.13" y="670.32" width="7.00" height="7.00" fill="#666666"/><rect x="555.88" y="670.32" width="7.00" height="7.00" fill="#333333"/><rect x="562.64" y="670.32" width="7.00" height="7.00" fill="#444444"/><rect x="569.39" y="670.32" width="7.00" height="7.00" fill="#444444"/><rect x="576.15" y="670.32" width="7.00" height="7.00" fill="#444444"/><rect x="272.20" y="677.07" width="7.00" height="7.00" fill="#111111"/><rect x="278.95" y="677.07" width="7.00" height="7.00" fill="#111111"/><rect x="285.71" y="677.07" width="7.00" height="7.00" fill="#222222"/><rect x="292.46" y="677.07" width="7.00" height="7.00" fill="#222222"/><rect x="299.22" y="677.07" width="7.00" height="7.00" fill="#555555"/><rect x="305.97" y="677.07" width="7.00" height="7.00" fill="#444444"/><rect x="312.73" y="677.07" width="7.00" height="7.00" fill="#555555"/><rect x="319.48" y="677.07" width="7.00" height="7.00" fill="#333333"/><rect x="326.23" y="677.07" width="7.00" height="7.00" fill="#333333"/><rect x="332.99" y="677.07" width="7.00" height="7.00" fill="#666666"/><rect x="339.74" y="677.07" width="7.00" height="7.00" fill="#666666"/><rect x="346.50" y="677.07" width="7.00" height="7.00" fill="#555555"/><rect x="353.25" y="677.07" width="7.00" height="7.00" fill="#666666"/><rect x="360.01" y="677.07" width="7.00" height="7.00" fill="#555555"/><rect x="366.76" y="677.07" width="7.00" height="7.00" fill="#111111"/><rect x="373.52" y="677.07" width="7.00" height="7.00" fill="#777777"/><rect x="380.27" y="677.07" width="7.00" height="7.00" fill="#555555"/><rect x="393.78" y="677.07" width="7.00" height="7.00" fill="#999999"/><rect x="400.53" y="677.07" width="7.00" height="7.00" fill="#aaaaaa"/><rect x="407.29" y="677.07" width="7.00" height="7.00" fill="#666666"/><rect x="414.04" y="677.07" width="7.00" height="7.00" fill="#666666"/><rect x="420.80" y="677.07" width="7.00" height="7.00" fill="#555555"/><rect x="427.55" y="677.07" width="7.00" height="7.00" fill="#666666"/><rect x="441.06" y="677.07" width="7.00" height="7.00" fill="#333333"/><rect x="447.81" y="677.07" width="7.00" height="7.00" fill="#333333"/><rect x="454.57" y="677.07" width="7.00" height="7.00" fill="#1e1e1e"/><rect x="461.32" y="677.07" width="7.00" height="7.00" fill="#cccccc"/><rect x="468.08" y="677.07" width="7.00" height="7.00" fill="#000000"/><rect x="474.83" y="677.07" width="7.00" height="7.00" fill="#888888"/><rect x="481.58" y="677.07" width="7.00" height="7.00" fill="#555555"/><rect x="488.34" y="677.07" width="7.00" height="7.00" fill="#555555"/><rect x="495.09" y="677.07" width="7.00" height="7.00" fill="#222222"/><rect x="501.85" y="677.07" width="7.00" height="7.00" fill="#777777"/><rect x="515.36" y="677.07" width="7.00" height="7.00" fill="#111111"/><rect x="522.11" y="677.07" width="7.00" height="7.00" fill="#333333"/><rect x="528.87" y="677.07" width="7.00" height="7.00" fill="#444444"/><rect x="535.62" y="677.07" width="7.00" height="7.00" fill="#222222"/><rect x="542.37" y="677.07" width="7.00" height="7.00" fill="#333333"/><rect x="549.13" y="677.07" width="7.00" height="7.00" fill="#333333"/><rect x="555.88" y="677.07" width="7.00" height="7.00" fill="#333333"/><rect x="562.64" y="677.07" width="7.00" height="7.00" fill="#333333"/><rect x="569.39" y="677.07" width="7.00" height="7.00" fill="#333333"/><rect x="576.15" y="677.07" width="7.00" height="7.00" fill="#666666"/><rect x="272.20" y="683.82" width="7.00" height="7.00" fill="#222222"/><rect x="278.95" y="683.82" width="7.00" height="7.00" fill="#222222"/><rect x="305.97" y="683.82" width="7.00" height="7.00" fill="#888888"/><rect x="312.73" y="683.82" width="7.00" height="7.00" fill="#222222"/><rect x="332.99" y="683.82" width="7.00" height="7.00" fill="#111111"/><rect x="339.74" y="683.82" width="7.00" height="7.00" fill="#111111"/><rect x="346.50" y="683.82" width="7.00" height="7.00" fill="#111111"/><rect x="353.25" y="683.82" width="7.00" height="7.00" fill="#111111"/><rect x="373.52" y="683.82" width="7.00" height="7.00" fill="#999999"/><rect x="380.27" y="683.82" width="7.00" height="7.00" fill="#666666"/><rect x="387.02" y="683.82" width="7.00" height="7.00" fill="#222222"/><rect x="393.78" y="683.82" width="7.00" height="7.00" fill="#333333"/><rect x="400.53" y="683.82" width="7.00" height="7.00" fill="#111111"/><rect x="407.29" y="683.82" width="7.00" height="7.00" fill="#777777"/><rect x="414.04" y="683.82" width="7.00" height="7.00" fill="#333333"/><rect x="420.80" y="683.82" width="7.00" height="7.00" fill="#dddddd"/><rect x="427.55" y="683.82" width="7.00" height="7.00" fill="#111111"/><rect x="434.30" y="683.82" width="7.00" height="7.00" fill="#333333"/><rect x="441.06" y="683.82" width="7.00" height="7.00" fill="#111111"/><rect x="447.81" y="683.82" width="7.00" height="7.00" fill="#111111"/><rect x="454.57" y="683.82" width="7.00" height="7.00" fill="#222222"/><rect x="461.32" y="683.82" width="7.00" height="7.00" fill="#555555"/><rect x="468.08" y="683.82" width="7.00" height="7.00" fill="#888888"/><rect x="474.83" y="683.82" width="7.00" height="7.00" fill="#000000"/><rect x="481.58" y="683.82" width="7.00" height="7.00" fill="#444444"/><rect x="488.34" y="683.82" width="7.00" height="7.00" fill="#111111"/><rect x="501.85" y="683.82" width="7.00" height="7.00" fill="#dddddd"/><rect x="508.60" y="683.82" width="7.00" height="7.00" fill="#111111"/><rect x="515.36" y="683.82" width="7.00" height="7.00" fill="#333333"/><rect x="522.11" y="683.82" width="7.00" height="7.00" fill="#666666"/><rect x="528.87" y="683.82" width="7.00" height="7.00" fill="#999999"/><rect x="542.37" y="683.82" width="7.00" height="7.00" fill="#555555"/><rect x="549.13" y="683.82" width="7.00" height="7.00" fill="#333333"/><rect x="555.88" y="683.82" width="7.00" height="7.00" fill="#111111"/><rect x="562.64" y="683.82" width="7.00" height="7.00" fill="#111111"/><rect x="576.15" y="683.82" width="7.00" height="7.00" fill="#ffffff"/><rect x="272.20" y="690.57" width="7.00" height="7.00" fill="#bbbbbb"/><rect x="278.95" y="690.57" width="7.00" height="7.00" fill="#aaaaaa"/><rect x="285.71" y="690.57" width="7.00" height="7.00" fill="#555555"/><rect x="292.46" y="690.57" width="7.00" height="7.00" fill="#888888"/><rect x="299.22" y="690.57" width="7.00" height="7.00" fill="#444444"/><rect x="305.97" y="690.57" width="7.00" height="7.00" fill="#999999"/><rect x="312.73" y="690.57" width="7.00" height="7.00" fill="#aaaaaa"/><rect x="319.48" y="690.57" width="7.00" height="7.00" fill="#333333"/><rect x="326.23" y="690.57" width="7.00" height="7.00" fill="#444444"/><rect x="332.99" y="690.57" width="7.00" height="7.00" fill="#333333"/><rect x="339.74" y="690.57" width="7.00" height="7.00" fill="#555555"/><rect x="346.50" y="690.57" width="7.00" height="7.00" fill="#777777"/><rect x="353.25" y="690.57" width="7.00" height="7.00" fill="#555555"/><rect x="360.01" y="690.57" width="7.00" height="7.00" fill="#777777"/><rect x="366.76" y="690.57" width="7.00" height="7.00" fill="#444444"/><rect x="373.52" y="690.57" width="7.00" height="7.00" fill="#888888"/><rect x="380.27" y="690.57" width="7.00" height="7.00" fill="#666666"/><rect x="387.02" y="690.57" width="7.00" height="7.00" fill="#666666"/><rect x="393.78" y="690.57" width="7.00" height="7.00" fill="#444444"/><rect x="400.53" y="690.57" width="7.00" height="7.00" fill="#444444"/><rect x="407.29" y="690.57" width="7.00" height="7.00" fill="#555555"/><rect x="414.04" y="690.57" width="7.00" height="7.00" fill="#555555"/><rect x="420.80" y="690.57" width="7.00" height="7.00" fill="#444444"/><rect x="427.55" y="690.57" width="7.00" height="7.00" fill="#666666"/><rect x="434.30" y="690.57" width="7.00" height="7.00" fill="#777777"/><rect x="441.06" y="690.57" width="7.00" height="7.00" fill="#777777"/><rect x="447.81" y="690.57" width="7.00" height="7.00" fill="#848484"/><rect x="454.57" y="690.57" width="7.00" height="7.00" fill="#777777"/><rect x="461.32" y="690.57" width="7.00" height="7.00" fill="#555555"/><rect x="468.08" y="690.57" width="7.00" height="7.00" fill="#555555"/><rect x="474.83" y="690.57" width="7.00" height="7.00" fill="#444444"/><rect x="481.58" y="690.57" width="7.00" height="7.00" fill="#000000"/><rect x="488.34" y="690.57" width="7.00" height="7.00" fill="#666666"/><rect x="495.09" y="690.57" width="7.00" height="7.00" fill="#111111"/><rect x="501.85" y="690.57" width="7.00" height="7.00" fill="#777777"/><rect x="508.60" y="690.57" width="7.00" height="7.00" fill="#666666"/><rect x="515.36" y="690.57" width="7.00" height="7.00" fill="#888888"/><rect x="522.11" y="690.57" width="7.00" height="7.00" fill="#666666"/><rect x="528.87" y="690.57" width="7.00" height="7.00" fill="#444444"/><rect x="535.62" y="690.57" width="7.00" height="7.00" fill="#aaaaaa"/><rect x="542.37" y="690.57" width="7.00" height="7.00" fill="#aaaaaa"/><rect x="549.13" y="690.57" width="7.00" height="7.00" fill="#999999"/><rect x="555.88" y="690.57" width="7.00" height="7.00" fill="#aaaaaa"/><rect x="562.64" y="690.57" width="7.00" height="7.00" fill="#888888"/><rect x="569.39" y="690.57" width="7.00" height="7.00" fill="#666666"/><rect x="576.15" y="690.57" width="7.00" height="7.00" fill="#333333"/><rect x="272.20" y="697.32" width="7.00" height="7.00" fill="#555555"/><rect x="278.95" y="697.32" width="7.00" height="7.00" fill="#333333"/><rect x="285.71" y="697.32" width="7.00" height="7.00" fill="#555555"/><rect x="292.46" y="697.32" width="7.00" height="7.00" fill="#555555"/><rect x="299.22" y="697.32" width="7.00" height="7.00" fill="#555555"/><rect x="305.97" y="697.32" width="7.00" height="7.00" fill="#555555"/><rect x="312.73" y="697.32" width="7.00" height="7.00" fill="#444444"/><rect x="319.48" y="697.32" width="7.00" height="7.00" fill="#333333"/><rect x="326.23" y="697.32" width="7.00" height="7.00" fill="#111111"/><rect x="332.99" y="697.32" width="7.00" height="7.00" fill="#444444"/><rect x="339.74" y="697.32" width="7.00" height="7.00" fill="#444444"/><rect x="346.50" y="697.32" width="7.00" height="7.00" fill="#666666"/><rect x="353.25" y="697.32" width="7.00" height="7.00" fill="#333333"/><rect x="360.01" y="697.32" width="7.00" height="7.00" fill="#666666"/><rect x="366.76" y="697.32" width="7.00" height="7.00" fill="#333333"/><rect x="373.52" y="697.32" width="7.00" height="7.00" fill="#555555"/><rect x="380.27" y="697.32" width="7.00" height="7.00" fill="#444444"/><rect x="387.02" y="697.32" width="7.00" height="7.00" fill="#111111"/><rect x="393.78" y="697.32" width="7.00" height="7.00" fill="#222222"/><rect x="400.53" y="697.32" width="7.00" height="7.00" fill="#333333"/><rect x="407.29" y="697.32" width="7.00" height="7.00" fill="#444444"/><rect x="414.04" y="697.32" width="7.00" height="7.00" fill="#444444"/><rect x="427.55" y="697.32" width="7.00" height="7.00" fill="#aaaaaa"/><rect x="434.30" y="697.32" width="7.00" height="7.00" fill="#444444"/><rect x="441.06" y="697.32" width="7.00" height="7.00" fill="#888888"/><rect x="447.81" y="697.32" width="7.00" height="7.00" fill="#444444"/><rect x="454.57" y="697.32" width="7.00" height="7.00" fill="#444444"/><rect x="461.32" y="697.32" width="7.00" height="7.00" fill="#666666"/><rect x="468.08" y="697.32" width="7.00" height="7.00" fill="#555555"/><rect x="474.83" y="697.32" width="7.00" height="7.00" fill="#111111"/><rect x="481.58" y="697.32" width="7.00" height="7.00" fill="#666666"/><rect x="488.34" y="697.32" width="7.00" height="7.00" fill="#000000"/><rect x="495.09" y="697.32" width="7.00" height="7.00" fill="#555555"/><rect x="501.85" y="697.32" width="7.00" height="7.00" fill="#222222"/><rect x="508.60" y="697.32" width="7.00" height="7.00" fill="#a2a2a2"/><rect x="515.36" y="697.32" width="7.00" height="7.00" fill="#555555"/><rect x="522.11" y="697.32" width="7.00" height="7.00" fill="#444444"/><rect x="528.87" y="697.32" width="7.00" height="7.00" fill="#222222"/><rect x="535.62" y="697.32" width="7.00" height="7.00" fill="#333333"/><rect x="542.37" y="697.32" width="7.00" height="7.00" fill="#444444"/><rect x="549.13" y="697.32" width="7.00" height="7.00" fill="#555555"/><rect x="555.88" y="697.32" width="7.00" height="7.00" fill="#222222"/><rect x="562.64" y="697.32" width="7.00" height="7.00" fill="#333333"/><rect x="569.39" y="697.32" width="7.00" height="7.00" fill="#222222"/><rect x="272.20" y="704.06" width="7.00" height="7.00" fill="#333333"/><rect x="285.71" y="704.06" width="7.00" height="7.00" fill="#444444"/><rect x="292.46" y="704.06" width="7.00" height="7.00" fill="#444444"/><rect x="299.22" y="704.06" width="7.00" height="7.00" fill="#333333"/><rect x="319.48" y="704.06" width="7.00" height="7.00" fill="#333333"/><rect x="326.23" y="704.06" width="7.00" height="7.00" fill="#444444"/><rect x="332.99" y="704.06" width="7.00" height="7.00" fill="#111111"/><rect x="339.74" y="704.06" width="7.00" height="7.00" fill="#333333"/><rect x="346.50" y="704.06" width="7.00" height="7.00" fill="#444444"/><rect x="353.25" y="704.06" width="7.00" height="7.00" fill="#444444"/><rect x="366.76" y="704.06" width="7.00" height="7.00" fill="#333333"/><rect x="373.52" y="704.06" width="7.00" height="7.00" fill="#111111"/><rect x="380.27" y="704.06" width="7.00" height="7.00" fill="#333333"/><rect x="387.02" y="704.06" width="7.00" height="7.00" fill="#555555"/><rect x="393.78" y="704.06" width="7.00" height="7.00" fill="#222222"/><rect x="400.53" y="704.06" width="7.00" height="7.00" fill="#222222"/><rect x="407.29" y="704.06" width="7.00" height="7.00" fill="#222222"/><rect x="414.04" y="704.06" width="7.00" height="7.00" fill="#444444"/><rect x="420.80" y="704.06" width="7.00" height="7.00" fill="#222222"/><rect x="427.55" y="704.06" width="7.00" height="7.00" fill="#333333"/><rect x="434.30" y="704.06" width="7.00" height="7.00" fill="#222222"/><rect x="441.06" y="704.06" width="7.00" height="7.00" fill="#777777"/><rect x="447.81" y="704.06" width="7.00" height="7.00" fill="#444444"/><rect x="454.57" y="704.06" width="7.00" height="7.00" fill="#444444"/><rect x="461.32" y="704.06" width="7.00" height="7.00" fill="#333333"/><rect x="468.08" y="704.06" width="7.00" height="7.00" fill="#222222"/><rect x="481.58" y="704.06" width="7.00" height="7.00" fill="#111111"/><rect x="488.34" y="704.06" width="7.00" height="7.00" fill="#555555"/><rect x="495.09" y="704.06" width="7.00" height="7.00" fill="#000000"/><rect x="508.60" y="704.06" width="7.00" height="7.00" fill="#111111"/><rect x="515.36" y="704.06" width="7.00" height="7.00" fill="#111111"/><rect x="528.87" y="704.06" width="7.00" height="7.00" fill="#444444"/><rect x="555.88" y="704.06" width="7.00" height="7.00" fill="#444444"/><rect x="569.39" y="704.06" width="7.00" height="7.00" fill="#111111"/><rect x="272.20" y="710.81" width="7.00" height="7.00" fill="#555555"/><rect x="278.95" y="710.81" width="7.00" height="7.00" fill="#555555"/><rect x="285.71" y="710.81" width="7.00" height="7.00" fill="#111111"/><rect x="292.46" y="710.81" width="7.00" height="7.00" fill="#111111"/><rect x="299.22" y="710.81" width="7.00" height="7.00" fill="#111111"/><rect x="305.97" y="710.81" width="7.00" height="7.00" fill="#999999"/><rect x="312.73" y="710.81" width="7.00" height="7.00" fill="#444444"/><rect x="332.99" y="710.81" width="7.00" height="7.00" fill="#111111"/><rect x="339.74" y="710.81" width="7.00" height="7.00" fill="#111111"/><rect x="346.50" y="710.81" width="7.00" height="7.00" fill="#111111"/><rect x="353.25" y="710.81" width="7.00" height="7.00" fill="#222222"/><rect x="366.76" y="710.81" width="7.00" height="7.00" fill="#333333"/><rect x="373.52" y="710.81" width="7.00" height="7.00" fill="#bbbbbb"/><rect x="380.27" y="710.81" width="7.00" height="7.00" fill="#888888"/><rect x="387.02" y="710.81" width="7.00" height="7.00" fill="#555555"/><rect x="393.78" y="710.81" width="7.00" height="7.00" fill="#222222"/><rect x="400.53" y="710.81" width="7.00" height="7.00" fill="#111111"/><rect x="407.29" y="710.81" width="7.00" height="7.00" fill="#aaaaaa"/><rect x="414.04" y="710.81" width="7.00" height="7.00" fill="#555555"/><rect x="420.80" y="710.81" width="7.00" height="7.00" fill="#dddddd"/><rect x="427.55" y="710.81" width="7.00" height="7.00" fill="#111111"/><rect x="434.30" y="710.81" width="7.00" height="7.00" fill="#555555"/><rect x="447.81" y="710.81" width="7.00" height="7.00" fill="#222222"/><rect x="454.57" y="710.81" width="7.00" height="7.00" fill="#111111"/><rect x="461.32" y="710.81" width="7.00" height="7.00" fill="#444444"/><rect x="468.08" y="710.81" width="7.00" height="7.00" fill="#777777"/><rect x="474.83" y="710.81" width="7.00" height="7.00" fill="#dddddd"/><rect x="481.58" y="710.81" width="7.00" height="7.00" fill="#777777"/><rect x="488.34" y="710.81" width="7.00" height="7.00" fill="#222222"/><rect x="501.85" y="710.81" width="7.00" height="7.00" fill="#000000"/><rect x="515.36" y="710.81" width="7.00" height="7.00" fill="#444444"/><rect x="522.11" y="710.81" width="7.00" height="7.00" fill="#888888"/><rect x="528.87" y="710.81" width="7.00" height="7.00" fill="#bbbbbb"/><rect x="535.62" y="710.81" width="7.00" height="7.00" fill="#333333"/><rect x="542.37" y="710.81" width="7.00" height="7.00" fill="#666666"/><rect x="549.13" y="710.81" width="7.00" height="7.00" fill="#444444"/><rect x="555.88" y="710.81" width="7.00" height="7.00" fill="#444444"/><rect x="562.64" y="710.81" width="7.00" height="7.00" fill="#333333"/><rect x="569.39" y="710.81" width="7.00" height="7.00" fill="#222222"/><rect x="576.15" y="710.81" width="7.00" height="7.00" fill="#dddddd"/><rect x="272.20" y="717.56" width="7.00" height="7.00" fill="#555555"/><rect x="278.95" y="717.56" width="7.00" height="7.00" fill="#333333"/><rect x="285.71" y="717.56" width="7.00" height="7.00" fill="#777777"/><rect x="292.46" y="717.56" width="7.00" height="7.00" fill="#777777"/><rect x="299.22" y="717.56" width="7.00" height="7.00" fill="#999999"/><rect x="305.97" y="717.56" width="7.00" height="7.00" fill="#333333"/><rect x="312.73" y="717.56" width="7.00" height="7.00" fill="#666666"/><rect x="319.48" y="717.56" width="7.00" height="7.00" fill="#333333"/><rect x="326.23" y="717.56" width="7.00" height="7.00" fill="#111111"/><rect x="332.99" y="717.56" width="7.00" height="7.00" fill="#111111"/><rect x="339.74" y="717.56" width="7.00" height="7.00" fill="#222222"/><rect x="346.50" y="717.56" width="7.00" height="7.00" fill="#888888"/><rect x="353.25" y="717.56" width="7.00" height="7.00" fill="#444444"/><rect x="360.01" y="717.56" width="7.00" height="7.00" fill="#999999"/><rect x="366.76" y="717.56" width="7.00" height="7.00" fill="#bbbbbb"/><rect x="373.52" y="717.56" width="7.00" height="7.00" fill="#222222"/><rect x="380.27" y="717.56" width="7.00" height="7.00" fill="#333333"/><rect x="387.02" y="717.56" width="7.00" height="7.00" fill="#444444"/><rect x="400.53" y="717.56" width="7.00" height="7.00" fill="#222222"/><rect x="407.29" y="717.56" width="7.00" height="7.00" fill="#555555"/><rect x="414.04" y="717.56" width="7.00" height="7.00" fill="#666666"/><rect x="420.80" y="717.56" width="7.00" height="7.00" fill="#222222"/><rect x="427.55" y="717.56" width="7.00" height="7.00" fill="#666666"/><rect x="434.30" y="717.56" width="7.00" height="7.00" fill="#333333"/><rect x="441.06" y="717.56" width="7.00" height="7.00" fill="#666666"/><rect x="447.81" y="717.56" width="7.00" height="7.00" fill="#555555"/><rect x="454.57" y="717.56" width="7.00" height="7.00" fill="#555555"/><rect x="474.83" y="717.56" width="7.00" height="7.00" fill="#111111"/><rect x="481.58" y="717.56" width="7.00" height="7.00" fill="#666666"/><rect x="488.34" y="717.56" width="7.00" height="7.00" fill="#9d9d9d"/><rect x="495.09" y="717.56" width="7.00" height="7.00" fill="#111111"/><rect x="508.60" y="717.56" width="7.00" height="7.00" fill="#000000"/><rect x="515.36" y="717.56" width="7.00" height="7.00" fill="#aaaaaa"/><rect x="522.11" y="717.56" width="7.00" height="7.00" fill="#888888"/><rect x="528.87" y="717.56" width="7.00" height="7.00" fill="#333333"/><rect x="535.62" y="717.56" width="7.00" height="7.00" fill="#444444"/><rect x="542.37" y="717.56" width="7.00" height="7.00" fill="#333333"/><rect x="549.13" y="717.56" width="7.00" height="7.00" fill="#222222"/><rect x="555.88" y="717.56" width="7.00" height="7.00" fill="#444444"/><rect x="562.64" y="717.56" width="7.00" height="7.00" fill="#222222"/><rect x="569.39" y="717.56" width="7.00" height="7.00" fill="#111111"/><rect x="576.15" y="717.56" width="7.00" height="7.00" fill="#222222"/><rect x="272.20" y="724.31" width="7.00" height="7.00" fill="#555555"/><rect x="278.95" y="724.31" width="7.00" height="7.00" fill="#555555"/><rect x="285.71" y="724.31" width="7.00" height="7.00" fill="#999999"/><rect x="292.46" y="724.31" width="7.00" height="7.00" fill="#666666"/><rect x="299.22" y="724.31" width="7.00" height="7.00" fill="#888888"/><rect x="305.97" y="724.31" width="7.00" height="7.00" fill="#555555"/><rect x="312.73" y="724.31" width="7.00" height="7.00" fill="#555555"/><rect x="326.23" y="724.31" width="7.00" height="7.00" fill="#111111"/><rect x="332.99" y="724.31" width="7.00" height="7.00" fill="#111111"/><rect x="346.50" y="724.31" width="7.00" height="7.00" fill="#444444"/><rect x="360.01" y="724.31" width="7.00" height="7.00" fill="#888888"/><rect x="366.76" y="724.31" width="7.00" height="7.00" fill="#bbbbbb"/><rect x="373.52" y="724.31" width="7.00" height="7.00" fill="#333333"/><rect x="380.27" y="724.31" width="7.00" height="7.00" fill="#333333"/><rect x="387.02" y="724.31" width="7.00" height="7.00" fill="#222222"/><rect x="407.29" y="724.31" width="7.00" height="7.00" fill="#777777"/><rect x="414.04" y="724.31" width="7.00" height="7.00" fill="#555555"/><rect x="420.80" y="724.31" width="7.00" height="7.00" fill="#333333"/><rect x="427.55" y="724.31" width="7.00" height="7.00" fill="#444444"/><rect x="434.30" y="724.31" width="7.00" height="7.00" fill="#333333"/><rect x="441.06" y="724.31" width="7.00" height="7.00" fill="#222222"/><rect x="447.81" y="724.31" width="7.00" height="7.00" fill="#555555"/><rect x="454.57" y="724.31" width="7.00" height="7.00" fill="#444444"/><rect x="468.08" y="724.31" width="7.00" height="7.00" fill="#111111"/><rect x="474.83" y="724.31" width="7.00" height="7.00" fill="#333333"/><rect x="481.58" y="724.31" width="7.00" height="7.00" fill="#888888"/><rect x="488.34" y="724.31" width="7.00" height="7.00" fill="#555555"/><rect x="495.09" y="724.31" width="7.00" height="7.00" fill="#111111"/><rect x="501.85" y="724.31" width="7.00" height="7.00" fill="#444444"/><rect x="508.60" y="724.31" width="7.00" height="7.00" fill="#aaaaaa"/><rect x="515.36" y="724.31" width="7.00" height="7.00" fill="#000000"/><rect x="522.11" y="724.31" width="7.00" height="7.00" fill="#cccccc"/><rect x="528.87" y="724.31" width="7.00" height="7.00" fill="#777777"/><rect x="535.62" y="724.31" width="7.00" height="7.00" fill="#666666"/><rect x="542.37" y="724.31" width="7.00" height="7.00" fill="#333333"/><rect x="549.13" y="724.31" width="7.00" height="7.00" fill="#111111"/><rect x="555.88" y="724.31" width="7.00" height="7.00" fill="#555555"/><rect x="562.64" y="724.31" width="7.00" height="7.00" fill="#222222"/><rect x="569.39" y="724.31" width="7.00" height="7.00" fill="#111111"/><rect x="576.15" y="724.31" width="7.00" height="7.00" fill="#333333"/><rect x="272.20" y="731.06" width="7.00" height="7.00" fill="#444444"/><rect x="278.95" y="731.06" width="7.00" height="7.00" fill="#444444"/><rect x="285.71" y="731.06" width="7.00" height="7.00" fill="#777777"/><rect x="292.46" y="731.06" width="7.00" height="7.00" fill="#333333"/><rect x="299.22" y="731.06" width="7.00" height="7.00" fill="#666666"/><rect x="305.97" y="731.06" width="7.00" height="7.00" fill="#555555"/><rect x="312.73" y="731.06" width="7.00" height="7.00" fill="#444444"/><rect x="326.23" y="731.06" width="7.00" height="7.00" fill="#111111"/><rect x="346.50" y="731.06" width="7.00" height="7.00" fill="#444444"/><rect x="353.25" y="731.06" width="7.00" height="7.00" fill="#111111"/><rect x="360.01" y="731.06" width="7.00" height="7.00" fill="#444444"/><rect x="366.76" y="731.06" width="7.00" height="7.00" fill="#cccccc"/><rect x="373.52" y="731.06" width="7.00" height="7.00" fill="#444444"/><rect x="380.27" y="731.06" width="7.00" height="7.00" fill="#444444"/><rect x="387.02" y="731.06" width="7.00" height="7.00" fill="#333333"/><rect x="407.29" y="731.06" width="7.00" height="7.00" fill="#cccccc"/><rect x="414.04" y="731.06" width="7.00" height="7.00" fill="#aaaaaa"/><rect x="420.80" y="731.06" width="7.00" height="7.00" fill="#555555"/><rect x="427.55" y="731.06" width="7.00" height="7.00" fill="#222222"/><rect x="441.06" y="731.06" width="7.00" height="7.00" fill="#111111"/><rect x="447.81" y="731.06" width="7.00" height="7.00" fill="#333333"/><rect x="454.57" y="731.06" width="7.00" height="7.00" fill="#222222"/><rect x="468.08" y="731.06" width="7.00" height="7.00" fill="#333333"/><rect x="474.83" y="731.06" width="7.00" height="7.00" fill="#666666"/><rect x="481.58" y="731.06" width="7.00" height="7.00" fill="#666666"/><rect x="488.34" y="731.06" width="7.00" height="7.00" fill="#444444"/><rect x="501.85" y="731.06" width="7.00" height="7.00" fill="#888888"/><rect x="508.60" y="731.06" width="7.00" height="7.00" fill="#888888"/><rect x="515.36" y="731.06" width="7.00" height="7.00" fill="#cccccc"/><rect x="522.11" y="731.06" width="7.00" height="7.00" fill="#000000"/><rect x="528.87" y="731.06" width="7.00" height="7.00" fill="#cccccc"/><rect x="535.62" y="731.06" width="7.00" height="7.00" fill="#555555"/><rect x="542.37" y="731.06" width="7.00" height="7.00" fill="#222222"/><rect x="555.88" y="731.06" width="7.00" height="7.00" fill="#444444"/><rect x="569.39" y="731.06" width="7.00" height="7.00" fill="#111111"/><rect x="576.15" y="731.06" width="7.00" height="7.00" fill="#555555"/><rect x="272.20" y="737.81" width="7.00" height="7.00" fill="#222222"/><rect x="278.95" y="737.81" width="7.00" height="7.00" fill="#444444"/><rect x="285.71" y="737.81" width="7.00" height="7.00" fill="#666666"/><rect x="292.46" y="737.81" width="7.00" height="7.00" fill="#555555"/><rect x="299.22" y="737.81" width="7.00" height="7.00" fill="#555555"/><rect x="305.97" y="737.81" width="7.00" height="7.00" fill="#777777"/><rect x="312.73" y="737.81" width="7.00" height="7.00" fill="#222222"/><rect x="319.48" y="737.81" width="7.00" height="7.00" fill="#222222"/><rect x="326.23" y="737.81" width="7.00" height="7.00" fill="#111111"/><rect x="332.99" y="737.81" width="7.00" height="7.00" fill="#111111"/><rect x="339.74" y="737.81" width="7.00" height="7.00" fill="#222222"/><rect x="346.50" y="737.81" width="7.00" height="7.00" fill="#555555"/><rect x="353.25" y="737.81" width="7.00" height="7.00" fill="#222222"/><rect x="360.01" y="737.81" width="7.00" height="7.00" fill="#111111"/><rect x="366.76" y="737.81" width="7.00" height="7.00" fill="#aaaaaa"/><rect x="373.52" y="737.81" width="7.00" height="7.00" fill="#888888"/><rect x="380.27" y="737.81" width="7.00" height="7.00" fill="#888888"/><rect x="387.02" y="737.81" width="7.00" height="7.00" fill="#444444"/><rect x="393.78" y="737.81" width="7.00" height="7.00" fill="#222222"/><rect x="400.53" y="737.81" width="7.00" height="7.00" fill="#111111"/><rect x="407.29" y="737.81" width="7.00" height="7.00" fill="#cccccc"/><rect x="414.04" y="737.81" width="7.00" height="7.00" fill="#cccccc"/><rect x="420.80" y="737.81" width="7.00" height="7.00" fill="#aaaaaa"/><rect x="427.55" y="737.81" width="7.00" height="7.00" fill="#111111"/><rect x="434.30" y="737.81" width="7.00" height="7.00" fill="#222222"/><rect x="454.57" y="737.81" width="7.00" height="7.00" fill="#111111"/><rect x="461.32" y="737.81" width="7.00" height="7.00" fill="#222222"/><rect x="468.08" y="737.81" width="7.00" height="7.00" fill="#444444"/><rect x="474.83" y="737.81" width="7.00" height="7.00" fill="#999999"/><rect x="481.58" y="737.81" width="7.00" height="7.00" fill="#444444"/><rect x="488.34" y="737.81" width="7.00" height="7.00" fill="#222222"/><rect x="495.09" y="737.81" width="7.00" height="7.00" fill="#444444"/><rect x="501.85" y="737.81" width="7.00" height="7.00" fill="#bbbbbb"/><rect x="508.60" y="737.81" width="7.00" height="7.00" fill="#333333"/><rect x="515.36" y="737.81" width="7.00" height="7.00" fill="#777777"/><rect x="522.11" y="737.81" width="7.00" height="7.00" fill="#cccccc"/><rect x="528.87" y="737.81" width="7.00" height="7.00" fill="#000000"/><rect x="535.62" y="737.81" width="7.00" height="7.00" fill="#333333"/><rect x="542.37" y="737.81" width="7.00" height="7.00" fill="#333333"/><rect x="549.13" y="737.81" width="7.00" height="7.00" fill="#111111"/><rect x="555.88" y="737.81" width="7.00" height="7.00" fill="#111111"/><rect x="562.64" y="737.81" width="7.00" height="7.00" fill="#222222"/><rect x="569.39" y="737.81" width="7.00" height="7.00" fill="#111111"/><rect x="576.15" y="737.81" width="7.00" height="7.00" fill="#999999"/><rect x="272.20" y="744.56" width="7.00" height="7.00" fill="#cccccc"/><rect x="278.95" y="744.56" width="7.00" height="7.00" fill="#888888"/><rect x="285.71" y="744.56" width="7.00" height="7.00" fill="#222222"/><rect x="292.46" y="744.56" width="7.00" height="7.00" fill="#333333"/><rect x="299.22" y="744.56" width="7.00" height="7.00" fill="#888888"/><rect x="305.97" y="744.56" width="7.00" height="7.00" fill="#999999"/><rect x="312.73" y="744.56" width="7.00" height="7.00" fill="#333333"/><rect x="332.99" y="744.56" width="7.00" height="7.00" fill="#444444"/><rect x="339.74" y="744.56" width="7.00" height="7.00" fill="#333333"/><rect x="353.25" y="744.56" width="7.00" height="7.00" fill="#111111"/><rect x="366.76" y="744.56" width="7.00" height="7.00" fill="#444444"/><rect x="373.52" y="744.56" width="7.00" height="7.00" fill="#444444"/><rect x="380.27" y="744.56" width="7.00" height="7.00" fill="#333333"/><rect x="387.02" y="744.56" width="7.00" height="7.00" fill="#666666"/><rect x="393.78" y="744.56" width="7.00" height="7.00" fill="#222222"/><rect x="400.53" y="744.56" width="7.00" height="7.00" fill="#333333"/><rect x="407.29" y="744.56" width="7.00" height="7.00" fill="#222222"/><rect x="414.04" y="744.56" width="7.00" height="7.00" fill="#111111"/><rect x="420.80" y="744.56" width="7.00" height="7.00" fill="#111111"/><rect x="427.55" y="744.56" width="7.00" height="7.00" fill="#222222"/><rect x="434.30" y="744.56" width="7.00" height="7.00" fill="#aaaaaa"/><rect x="441.06" y="744.56" width="7.00" height="7.00" fill="#333333"/><rect x="447.81" y="744.56" width="7.00" height="7.00" fill="#cccccc"/><rect x="454.57" y="744.56" width="7.00" height="7.00" fill="#999999"/><rect x="461.32" y="744.56" width="7.00" height="7.00" fill="#111111"/><rect x="468.08" y="744.56" width="7.00" height="7.00" fill="#222222"/><rect x="481.58" y="744.56" width="7.00" height="7.00" fill="#aaaaaa"/><rect x="488.34" y="744.56" width="7.00" height="7.00" fill="#333333"/><rect x="501.85" y="744.56" width="7.00" height="7.00" fill="#333333"/><rect x="508.60" y="744.56" width="7.00" height="7.00" fill="#444444"/><rect x="515.36" y="744.56" width="7.00" height="7.00" fill="#666666"/><rect x="522.11" y="744.56" width="7.00" height="7.00" fill="#555555"/><rect x="528.87" y="744.56" width="7.00" height="7.00" fill="#333333"/><rect x="535.62" y="744.56" width="7.00" height="7.00" fill="#000000"/><rect x="542.37" y="744.56" width="7.00" height="7.00" fill="#999999"/><rect x="549.13" y="744.56" width="7.00" height="7.00" fill="#666666"/><rect x="555.88" y="744.56" width="7.00" height="7.00" fill="#666666"/><rect x="562.64" y="744.56" width="7.00" height="7.00" fill="#666666"/><rect x="569.39" y="744.56" width="7.00" height="7.00" fill="#444444"/><rect x="272.20" y="751.31" width="7.00" height="7.00" fill="#cccccc"/><rect x="278.95" y="751.31" width="7.00" height="7.00" fill="#777777"/><rect x="292.46" y="751.31" width="7.00" height="7.00" fill="#444444"/><rect x="299.22" y="751.31" width="7.00" height="7.00" fill="#333333"/><rect x="305.97" y="751.31" width="7.00" height="7.00" fill="#cccccc"/><rect x="312.73" y="751.31" width="7.00" height="7.00" fill="#666666"/><rect x="319.48" y="751.31" width="7.00" height="7.00" fill="#444444"/><rect x="326.23" y="751.31" width="7.00" height="7.00" fill="#555555"/><rect x="332.99" y="751.31" width="7.00" height="7.00" fill="#111111"/><rect x="339.74" y="751.31" width="7.00" height="7.00" fill="#333333"/><rect x="346.50" y="751.31" width="7.00" height="7.00" fill="#444444"/><rect x="353.25" y="751.31" width="7.00" height="7.00" fill="#333333"/><rect x="360.01" y="751.31" width="7.00" height="7.00" fill="#222222"/><rect x="366.76" y="751.31" width="7.00" height="7.00" fill="#111111"/><rect x="373.52" y="751.31" width="7.00" height="7.00" fill="#aaaaaa"/><rect x="380.27" y="751.31" width="7.00" height="7.00" fill="#777777"/><rect x="387.02" y="751.31" width="7.00" height="7.00" fill="#777777"/><rect x="393.78" y="751.31" width="7.00" height="7.00" fill="#222222"/><rect x="400.53" y="751.31" width="7.00" height="7.00" fill="#111111"/><rect x="407.29" y="751.31" width="7.00" height="7.00" fill="#222222"/><rect x="414.04" y="751.31" width="7.00" height="7.00" fill="#111111"/><rect x="420.80" y="751.31" width="7.00" height="7.00" fill="#555555"/><rect x="427.55" y="751.31" width="7.00" height="7.00" fill="#555555"/><rect x="434.30" y="751.31" width="7.00" height="7.00" fill="#bbbbbb"/><rect x="441.06" y="751.31" width="7.00" height="7.00" fill="#444444"/><rect x="447.81" y="751.31" width="7.00" height="7.00" fill="#888888"/><rect x="454.57" y="751.31" width="7.00" height="7.00" fill="#999999"/><rect x="461.32" y="751.31" width="7.00" height="7.00" fill="#555555"/><rect x="468.08" y="751.31" width="7.00" height="7.00" fill="#333333"/><rect x="474.83" y="751.31" width="7.00" height="7.00" fill="#555555"/><rect x="481.58" y="751.31" width="7.00" height="7.00" fill="#aaaaaa"/><rect x="488.34" y="751.31" width="7.00" height="7.00" fill="#444444"/><rect x="501.85" y="751.31" width="7.00" height="7.00" fill="#666666"/><rect x="508.60" y="751.31" width="7.00" height="7.00" fill="#333333"/><rect x="515.36" y="751.31" width="7.00" height="7.00" fill="#333333"/><rect x="522.11" y="751.31" width="7.00" height="7.00" fill="#222222"/><rect x="528.87" y="751.31" width="7.00" height="7.00" fill="#333333"/><rect x="535.62" y="751.31" width="7.00" height="7.00" fill="#999999"/><rect x="542.37" y="751.31" width="7.00" height="7.00" fill="#000000"/><rect x="549.13" y="751.31" width="7.00" height="7.00" fill="#d4d4d4"/><rect x="555.88" y="751.31" width="7.00" height="7.00" fill="#909090"/><rect x="562.64" y="751.31" width="7.00" height="7.00" fill="#cccccc"/><rect x="569.39" y="751.31" width="7.00" height="7.00" fill="#aaaaaa"/><rect x="576.15" y="751.31" width="7.00" height="7.00" fill="#444444"/><rect x="272.20" y="758.06" width="7.00" height="7.00" fill="#999999"/><rect x="278.95" y="758.06" width="7.00" height="7.00" fill="#777777"/><rect x="292.46" y="758.06" width="7.00" height="7.00" fill="#666666"/><rect x="299.22" y="758.06" width="7.00" height="7.00" fill="#111111"/><rect x="305.97" y="758.06" width="7.00" height="7.00" fill="#888888"/><rect x="312.73" y="758.06" width="7.00" height="7.00" fill="#666666"/><rect x="319.48" y="758.06" width="7.00" height="7.00" fill="#444444"/><rect x="326.23" y="758.06" width="7.00" height="7.00" fill="#666666"/><rect x="332.99" y="758.06" width="7.00" height="7.00" fill="#222222"/><rect x="339.74" y="758.06" width="7.00" height="7.00" fill="#444444"/><rect x="346.50" y="758.06" width="7.00" height="7.00" fill="#555555"/><rect x="353.25" y="758.06" width="7.00" height="7.00" fill="#333333"/><rect x="360.01" y="758.06" width="7.00" height="7.00" fill="#333333"/><rect x="366.76" y="758.06" width="7.00" height="7.00" fill="#111111"/><rect x="373.52" y="758.06" width="7.00" height="7.00" fill="#777777"/><rect x="380.27" y="758.06" width="7.00" height="7.00" fill="#777777"/><rect x="387.02" y="758.06" width="7.00" height="7.00" fill="#777777"/><rect x="393.78" y="758.06" width="7.00" height="7.00" fill="#333333"/><rect x="400.53" y="758.06" width="7.00" height="7.00" fill="#333333"/><rect x="414.04" y="758.06" width="7.00" height="7.00" fill="#111111"/><rect x="420.80" y="758.06" width="7.00" height="7.00" fill="#333333"/><rect x="427.55" y="758.06" width="7.00" height="7.00" fill="#555555"/><rect x="434.30" y="758.06" width="7.00" height="7.00" fill="#999999"/><rect x="441.06" y="758.06" width="7.00" height="7.00" fill="#333333"/><rect x="447.81" y="758.06" width="7.00" height="7.00" fill="#444444"/><rect x="454.57" y="758.06" width="7.00" height="7.00" fill="#777777"/><rect x="461.32" y="758.06" width="7.00" height="7.00" fill="#666666"/><rect x="468.08" y="758.06" width="7.00" height="7.00" fill="#333333"/><rect x="474.83" y="758.06" width="7.00" height="7.00" fill="#333333"/><rect x="481.58" y="758.06" width="7.00" height="7.00" fill="#999999"/><rect x="488.34" y="758.06" width="7.00" height="7.00" fill="#555555"/><rect x="501.85" y="758.06" width="7.00" height="7.00" fill="#444444"/><rect x="508.60" y="758.06" width="7.00" height="7.00" fill="#222222"/><rect x="515.36" y="758.06" width="7.00" height="7.00" fill="#111111"/><rect x="528.87" y="758.06" width="7.00" height="7.00" fill="#111111"/><rect x="535.62" y="758.06" width="7.00" height="7.00" fill="#666666"/><rect x="542.37" y="758.06" width="7.00" height="7.00" fill="#d0d0d0"/><rect x="549.13" y="758.06" width="7.00" height="7.00" fill="#000000"/><rect x="555.88" y="758.06" width="7.00" height="7.00" fill="#808080"/><rect x="562.64" y="758.06" width="7.00" height="7.00" fill="#bbbbbb"/><rect x="569.39" y="758.06" width="7.00" height="7.00" fill="#bbbbbb"/><rect x="576.15" y="758.06" width="7.00" height="7.00" fill="#333333"/><rect x="272.20" y="764.80" width="7.00" height="7.00" fill="#bbbbbb"/><rect x="278.95" y="764.80" width="7.00" height="7.00" fill="#444444"/><rect x="292.46" y="764.80" width="7.00" height="7.00" fill="#111111"/><rect x="305.97" y="764.80" width="7.00" height="7.00" fill="#444444"/><rect x="312.73" y="764.80" width="7.00" height="7.00" fill="#aaaaaa"/><rect x="319.48" y="764.80" width="7.00" height="7.00" fill="#111111"/><rect x="326.23" y="764.80" width="7.00" height="7.00" fill="#111111"/><rect x="339.74" y="764.80" width="7.00" height="7.00" fill="#111111"/><rect x="346.50" y="764.80" width="7.00" height="7.00" fill="#111111"/><rect x="353.25" y="764.80" width="7.00" height="7.00" fill="#222222"/><rect x="360.01" y="764.80" width="7.00" height="7.00" fill="#333333"/><rect x="366.76" y="764.80" width="7.00" height="7.00" fill="#111111"/><rect x="373.52" y="764.80" width="7.00" height="7.00" fill="#222222"/><rect x="380.27" y="764.80" width="7.00" height="7.00" fill="#222222"/><rect x="387.02" y="764.80" width="7.00" height="7.00" fill="#444444"/><rect x="393.78" y="764.80" width="7.00" height="7.00" fill="#111111"/><rect x="400.53" y="764.80" width="7.00" height="7.00" fill="#111111"/><rect x="407.29" y="764.80" width="7.00" height="7.00" fill="#111111"/><rect x="414.04" y="764.80" width="7.00" height="7.00" fill="#111111"/><rect x="420.80" y="764.80" width="7.00" height="7.00" fill="#111111"/><rect x="427.55" y="764.80" width="7.00" height="7.00" fill="#444444"/><rect x="434.30" y="764.80" width="7.00" height="7.00" fill="#666666"/><rect x="441.06" y="764.80" width="7.00" height="7.00" fill="#777777"/><rect x="447.81" y="764.80" width="7.00" height="7.00" fill="#777777"/><rect x="454.57" y="764.80" width="7.00" height="7.00" fill="#aaaaaa"/><rect x="461.32" y="764.80" width="7.00" height="7.00" fill="#333333"/><rect x="468.08" y="764.80" width="7.00" height="7.00" fill="#333333"/><rect x="474.83" y="764.80" width="7.00" height="7.00" fill="#111111"/><rect x="481.58" y="764.80" width="7.00" height="7.00" fill="#aaaaaa"/><rect x="488.34" y="764.80" width="7.00" height="7.00" fill="#222222"/><rect x="495.09" y="764.80" width="7.00" height="7.00" fill="#444444"/><rect x="501.85" y="764.80" width="7.00" height="7.00" fill="#444444"/><rect x="508.60" y="764.80" width="7.00" height="7.00" fill="#444444"/><rect x="515.36" y="764.80" width="7.00" height="7.00" fill="#555555"/><rect x="522.11" y="764.80" width="7.00" height="7.00" fill="#444444"/><rect x="528.87" y="764.80" width="7.00" height="7.00" fill="#111111"/><rect x="535.62" y="764.80" width="7.00" height="7.00" fill="#666666"/><rect x="542.37" y="764.80" width="7.00" height="7.00" fill="#959595"/><rect x="549.13" y="764.80" width="7.00" height="7.00" fill="#848484"/><rect x="555.88" y="764.80" width="7.00" height="7.00" fill="#000000"/><rect x="562.64" y="764.80" width="7.00" height="7.00" fill="#999999"/><rect x="569.39" y="764.80" width="7.00" height="7.00" fill="#666666"/><rect x="576.15" y="764.80" width="7.00" height="7.00" fill="#111111"/><rect x="272.20" y="771.55" width="7.00" height="7.00" fill="#999999"/><rect x="278.95" y="771.55" width="7.00" height="7.00" fill="#777777"/><rect x="292.46" y="771.55" width="7.00" height="7.00" fill="#555555"/><rect x="305.97" y="771.55" width="7.00" height="7.00" fill="#777777"/><rect x="312.73" y="771.55" width="7.00" height="7.00" fill="#555555"/><rect x="319.48" y="771.55" width="7.00" height="7.00" fill="#666666"/><rect x="326.23" y="771.55" width="7.00" height="7.00" fill="#777777"/><rect x="332.99" y="771.55" width="7.00" height="7.00" fill="#222222"/><rect x="339.74" y="771.55" width="7.00" height="7.00" fill="#333333"/><rect x="346.50" y="771.55" width="7.00" height="7.00" fill="#444444"/><rect x="353.25" y="771.55" width="7.00" height="7.00" fill="#222222"/><rect x="360.01" y="771.55" width="7.00" height="7.00" fill="#222222"/><rect x="373.52" y="771.55" width="7.00" height="7.00" fill="#666666"/><rect x="380.27" y="771.55" width="7.00" height="7.00" fill="#333333"/><rect x="387.02" y="771.55" width="7.00" height="7.00" fill="#444444"/><rect x="393.78" y="771.55" width="7.00" height="7.00" fill="#222222"/><rect x="400.53" y="771.55" width="7.00" height="7.00" fill="#222222"/><rect x="414.04" y="771.55" width="7.00" height="7.00" fill="#111111"/><rect x="420.80" y="771.55" width="7.00" height="7.00" fill="#222222"/><rect x="427.55" y="771.55" width="7.00" height="7.00" fill="#444444"/><rect x="434.30" y="771.55" width="7.00" height="7.00" fill="#999999"/><rect x="441.06" y="771.55" width="7.00" height="7.00" fill="#333333"/><rect x="447.81" y="771.55" width="7.00" height="7.00" fill="#666666"/><rect x="454.57" y="771.55" width="7.00" height="7.00" fill="#888888"/><rect x="461.32" y="771.55" width="7.00" height="7.00" fill="#444444"/><rect x="468.08" y="771.55" width="7.00" height="7.00" fill="#333333"/><rect x="474.83" y="771.55" width="7.00" height="7.00" fill="#111111"/><rect x="481.58" y="771.55" width="7.00" height="7.00" fill="#888888"/><rect x="488.34" y="771.55" width="7.00" height="7.00" fill="#333333"/><rect x="501.85" y="771.55" width="7.00" height="7.00" fill="#333333"/><rect x="508.60" y="771.55" width="7.00" height="7.00" fill="#222222"/><rect x="515.36" y="771.55" width="7.00" height="7.00" fill="#222222"/><rect x="528.87" y="771.55" width="7.00" height="7.00" fill="#222222"/><rect x="535.62" y="771.55" width="7.00" height="7.00" fill="#666666"/><rect x="542.37" y="771.55" width="7.00" height="7.00" fill="#cccccc"/><rect x="549.13" y="771.55" width="7.00" height="7.00" fill="#bbbbbb"/><rect x="555.88" y="771.55" width="7.00" height="7.00" fill="#999999"/><rect x="562.64" y="771.55" width="7.00" height="7.00" fill="#000000"/><rect x="569.39" y="771.55" width="7.00" height="7.00" fill="#eeeeee"/><rect x="576.15" y="771.55" width="7.00" height="7.00" fill="#222222"/><rect x="272.20" y="778.30" width="7.00" height="7.00" fill="#666666"/><rect x="278.95" y="778.30" width="7.00" height="7.00" fill="#777777"/><rect x="292.46" y="778.30" width="7.00" height="7.00" fill="#666666"/><rect x="305.97" y="778.30" width="7.00" height="7.00" fill="#666666"/><rect x="312.73" y="778.30" width="7.00" height="7.00" fill="#444444"/><rect x="319.48" y="778.30" width="7.00" height="7.00" fill="#888888"/><rect x="326.23" y="778.30" width="7.00" height="7.00" fill="#aaaaaa"/><rect x="332.99" y="778.30" width="7.00" height="7.00" fill="#333333"/><rect x="339.74" y="778.30" width="7.00" height="7.00" fill="#444444"/><rect x="346.50" y="778.30" width="7.00" height="7.00" fill="#555555"/><rect x="353.25" y="778.30" width="7.00" height="7.00" fill="#444444"/><rect x="360.01" y="778.30" width="7.00" height="7.00" fill="#111111"/><rect x="373.52" y="778.30" width="7.00" height="7.00" fill="#555555"/><rect x="380.27" y="778.30" width="7.00" height="7.00" fill="#444444"/><rect x="387.02" y="778.30" width="7.00" height="7.00" fill="#444444"/><rect x="393.78" y="778.30" width="7.00" height="7.00" fill="#333333"/><rect x="400.53" y="778.30" width="7.00" height="7.00" fill="#444444"/><rect x="414.04" y="778.30" width="7.00" height="7.00" fill="#222222"/><rect x="420.80" y="778.30" width="7.00" height="7.00" fill="#111111"/><rect x="427.55" y="778.30" width="7.00" height="7.00" fill="#333333"/><rect x="434.30" y="778.30" width="7.00" height="7.00" fill="#666666"/><rect x="441.06" y="778.30" width="7.00" height="7.00" fill="#333333"/><rect x="447.81" y="778.30" width="7.00" height="7.00" fill="#444444"/><rect x="454.57" y="778.30" width="7.00" height="7.00" fill="#666666"/><rect x="461.32" y="778.30" width="7.00" height="7.00" fill="#444444"/><rect x="468.08" y="778.30" width="7.00" height="7.00" fill="#333333"/><rect x="481.58" y="778.30" width="7.00" height="7.00" fill="#666666"/><rect x="488.34" y="778.30" width="7.00" height="7.00" fill="#222222"/><rect x="495.09" y="778.30" width="7.00" height="7.00" fill="#111111"/><rect x="501.85" y="778.30" width="7.00" height="7.00" fill="#222222"/><rect x="508.60" y="778.30" width="7.00" height="7.00" fill="#111111"/><rect x="515.36" y="778.30" width="7.00" height="7.00" fill="#111111"/><rect x="522.11" y="778.30" width="7.00" height="7.00" fill="#111111"/><rect x="528.87" y="778.30" width="7.00" height="7.00" fill="#111111"/><rect x="535.62" y="778.30" width="7.00" height="7.00" fill="#444444"/><rect x="542.37" y="778.30" width="7.00" height="7.00" fill="#aaaaaa"/><rect x="549.13" y="778.30" width="7.00" height="7.00" fill="#bbbbbb"/><rect x="555.88" y="778.30" width="7.00" height="7.00" fill="#666666"/><rect x="562.64" y="778.30" width="7.00" height="7.00" fill="#eeeeee"/><rect x="569.39" y="778.30" width="7.00" height="7.00" fill="#000000"/><rect x="576.15" y="778.30" width="7.00" height="7.00" fill="#111111"/><rect x="272.20" y="785.05" width="7.00" height="7.00" fill="#222222"/><rect x="278.95" y="785.05" width="7.00" height="7.00" fill="#222222"/><rect x="292.46" y="785.05" width="7.00" height="7.00" fill="#111111"/><rect x="305.97" y="785.05" width="7.00" height="7.00" fill="#777777"/><rect x="312.73" y="785.05" width="7.00" height="7.00" fill="#222222"/><rect x="332.99" y="785.05" width="7.00" height="7.00" fill="#111111"/><rect x="339.74" y="785.05" width="7.00" height="7.00" fill="#222222"/><rect x="353.25" y="785.05" width="7.00" height="7.00" fill="#222222"/><rect x="366.76" y="785.05" width="7.00" height="7.00" fill="#111111"/><rect x="373.52" y="785.05" width="7.00" height="7.00" fill="#999999"/><rect x="380.27" y="785.05" width="7.00" height="7.00" fill="#555555"/><rect x="387.02" y="785.05" width="7.00" height="7.00" fill="#111111"/><rect x="393.78" y="785.05" width="7.00" height="7.00" fill="#222222"/><rect x="407.29" y="785.05" width="7.00" height="7.00" fill="#666666"/><rect x="414.04" y="785.05" width="7.00" height="7.00" fill="#222222"/><rect x="420.80" y="785.05" width="7.00" height="7.00" fill="#ffffff"/><rect x="434.30" y="785.05" width="7.00" height="7.00" fill="#333333"/><rect x="441.06" y="785.05" width="7.00" height="7.00" fill="#222222"/><rect x="447.81" y="785.05" width="7.00" height="7.00" fill="#111111"/><rect x="454.57" y="785.05" width="7.00" height="7.00" fill="#111111"/><rect x="461.32" y="785.05" width="7.00" height="7.00" fill="#444444"/><rect x="468.08" y="785.05" width="7.00" height="7.00" fill="#666666"/><rect x="474.83" y="785.05" width="7.00" height="7.00" fill="#ffffff"/><rect x="481.58" y="785.05" width="7.00" height="7.00" fill="#333333"/><rect x="501.85" y="785.05" width="7.00" height="7.00" fill="#dddddd"/><rect x="508.60" y="785.05" width="7.00" height="7.00" fill="#222222"/><rect x="515.36" y="785.05" width="7.00" height="7.00" fill="#333333"/><rect x="522.11" y="785.05" width="7.00" height="7.00" fill="#555555"/><rect x="528.87" y="785.05" width="7.00" height="7.00" fill="#999999"/><rect x="542.37" y="785.05" width="7.00" height="7.00" fill="#444444"/><rect x="549.13" y="785.05" width="7.00" height="7.00" fill="#333333"/><rect x="555.88" y="785.05" width="7.00" height="7.00" fill="#111111"/><rect x="562.64" y="785.05" width="7.00" height="7.00" fill="#222222"/><rect x="569.39" y="785.05" width="7.00" height="7.00" fill="#111111"/><rect x="576.15" y="785.05" width="7.00" height="7.00" fill="#000000"/></g>
<rect x="269.25" y="478.45" width="317.3" height="316.0" fill="none" stroke="#ff0000" stroke-width="8.3"/>
<path d="M537.6,395.1 L541.7,391.7 C542.3,384 544,377 549,369.5 C551,367 553,366.3 554,366.6 C556.5,367.5 555.5,372 553.1,377.2 C551.5,380.5 548,385 544.8,388.1 C542.4,390.8 542.2,394 543.3,397.4 C544.2,399.6 547.5,400 550,397.9 L553.9,394.6" fill="none" stroke="#000" stroke-width="1.9" stroke-linecap="round" stroke-linejoin="round"/>
<path d="M542.9,396.5 C542.2,391 542.6,382 545.2,376 C546.2,373.5 547.2,371.5 548.6,370" fill="none" stroke="#000" stroke-width="3.3" stroke-linecap="round"/>
<g transform="translate(-0.348,-2.541) scale(1.0065,1.0160)" fill="#000"><path d="M22.8,159.6 C23.8,158.4 26.5,158.2 28.9,160.4 C29.8,163 30,166.5 30.8,169.4 C31.5,172 33.5,175 36.2,176.1 L36.2,177.7 C32.5,177.5 29,175.5 27.6,172.3 C26.3,169.5 26,165 25.6,163.5 C25.2,161.8 24.3,160.6 22.8,159.6 Z"/><path d="M53.7,159.6 C52.7,158.4 50,158.2 47.6,160.4 C46.7,163 46.5,166.5 45.7,169.4 C45,172 43,175 40.3,176.1 L40.3,177.7 C44,177.5 47.5,175.5 48.9,172.3 C50.2,169.5 50.5,165 50.9,163.5 C51.3,161.8 52.2,160.6 53.7,159.6 Z"/><path d="M36.2,152.8 L40.3,152.8 L40.3,184.1 L36.2,184.1 Z"/><path d="M30.05,152.8 L46.06,152.8 L46.06,154.8 C43,154.8 41,155.2 40.3,156.5 L36.2,156.5 C35.5,155.2 33.5,154.8 30.05,154.8 Z"/><path d="M30.05,184.1 L46.06,184.1 L46.06,182.0 C43,182.0 41,181.6 40.3,180.3 L36.2,180.3 C35.5,181.6 33.5,182 30.05,182 Z"/></g>
<g transform="translate(-6.857,751.900) scale(0.9806,1.0000)" fill="#000"><path d="M22.8,159.6 C23.8,158.4 26.5,158.2 28.9,160.4 C29.8,163 30,166.5 30.8,169.4 C31.5,172 33.5,175 36.2,176.1 L36.2,177.7 C32.5,177.5 29,175.5 27.6,172.3 C26.3,169.5 26,165 25.6,163.5 C25.2,161.8 24.3,160.6 22.8,159.6 Z"/><path d="M53.7,159.6 C52.7,158.4 50,158.2 47.6,160.4 C46.7,163 46.5,166.5 45.7,169.4 C45,172 43,175 40.3,176.1 L40.3,177.7 C44,177.5 47.5,175.5 48.9,172.3 C50.2,169.5 50.5,165 50.9,163.5 C51.3,161.8 52.2,160.6 53.7,159.6 Z"/><path d="M36.2,152.8 L40.3,152.8 L40.3,184.1 L36.2,184.1 Z"/><path d="M30.05,152.8 L46.06,152.8 L46.06,154.8 C43,154.8 41,155.2 40.3,156.5 L36.2,156.5 C35.5,155.2 33.5,154.8 30.05,154.8 Z"/><path d="M30.05,184.1 L46.06,184.1 L46.06,182.0 C43,182.0 41,181.6 40.3,180.3 L36.2,180.3 C35.5,181.6 33.5,182 30.05,182 Z"/></g>
<g fill="none" stroke="#000"><circle cx="5.8" cy="18.9" r="2.2" fill="#000" stroke="none"/><path d="M4.6,17.8 C6.2,15.4 8.8,14.9 11.4,14.9 C15.6,14.9 17.7,17 17.7,21" stroke-width="1.8"/><path d="M17.7,20 L17.7,33" stroke-width="3.6"/><path d="M18.2,32.5 C18.4,35 19.5,35.9 20.9,35.9 C22.6,35.9 23.5,33 23.6,29.2" stroke-width="1.5"/><path d="M17.2,23.4 C11,24.2 3.3,25.6 3.3,30.8 C3.3,34 5.6,35.3 8.6,35.3 C12.3,35.3 15.6,33.2 17.2,30.6" stroke-width="2.6"/></g>
<g fill="none" stroke="#000" stroke-linecap="round"><circle cx="520.5" cy="1087.5" r="1.9" fill="#000" stroke="none"/><circle cx="508.0" cy="1098.6" r="2.1" fill="#000" stroke="none"/><path d="M522.2,1086.2 C521.6,1084 519.6,1083.2 517.3,1083.2 C513.6,1083.2 510.9,1085.4 511.2,1088.2 C511.6,1091 515,1092 517.5,1093.4 C520.3,1095 521.2,1097.2 520.6,1099.4 C519.8,1102.3 516.5,1103.9 512.8,1103.9 C509.5,1103.9 507,1102.6 506.3,1100.2" stroke-width="1.7"/><path d="M511.6,1088.6 C512.2,1091 515,1092.1 517.5,1093.4 C520,1094.8 521,1096.5 520.6,1098.8" stroke-width="3.0"/></g>
<text transform="translate(24.34,35.93) scale(0.4538,0.5178)" font-family="Liberation Serif" font-size="100" font-style="normal" style="filter:grayscale(1)">)</text>
<text transform="translate(0.00,484.73) scale(0.5022,0.4671)" font-family="Liberation Serif" font-size="100" font-style="normal" style="filter:grayscale(1)">b</text>
<text transform="translate(25.57,485.73) scale(0.4423,0.5178)" font-family="Liberation Serif" font-size="100" font-style="normal" style="filter:grayscale(1)">)</text>
<text transform="translate(55.92,191.80) scale(0.3200,0.3409)" font-family="Liberation Serif" font-size="100" font-style="normal" style="filter:grayscale(1)">1</text>
<text transform="translate(48.63,943.00) scale(0.3425,0.3385)" font-family="Liberation Serif" font-size="100" font-style="normal" style="filter:grayscale(1)">2</text>
<g style="filter:grayscale(1)"><text x="94.8" y="113.2" font-family="Liberation Sans" font-size="39.0" text-anchor="end">0.8</text><text x="94.8" y="232.9" font-family="Liberation Sans" font-size="39.0" text-anchor="end">0.6</text><text x="94.8" y="352.4" font-family="Liberation Sans" font-size="39.0" text-anchor="end">0.4</text><text x="94.8" y="842.2" font-family="Liberation Sans" font-size="39.0" text-anchor="end">0.6</text><text x="94.8" y="1022.0" font-family="Liberation Sans" font-size="39.0" text-anchor="end">0.4</text><path d="M308.0,365.0 L308.0,392.0 L304.2,392.0 L304.2,373.0 L297.8,373.0 L297.8,370.0 C301.4,370.0 303.7,368.5 304.6,365.0 Z" fill="#000"/><text x="315.74" y="392.0" font-family="Liberation Sans" font-size="39.0">3</text><path d="M400.8,365.0 L400.8,392.0 L397.0,392.0 L397.0,373.0 L390.6,373.0 L390.6,370.0 C394.2,370.0 396.5,368.5 397.4,365.0 Z" fill="#000"/><text x="407.74" y="392.0" font-family="Liberation Sans" font-size="39.0">8</text><text x="442.25" y="392.0" font-family="Liberation Sans" font-size="39.0">2</text><path d="M478.0,365.0 L478.0,392.0 L474.2,392.0 L474.2,373.0 L467.8,373.0 L467.8,370.0 C471.4,370.0 473.7,368.5 474.6,365.0 Z" fill="#000"/><text x="627.64" y="392.0" font-family="Liberation Sans" font-size="39.0">3</text><path d="M663.9,365.0 L663.9,392.0 L660.1,392.0 L660.1,373.0 L653.7,373.0 L653.7,370.0 C657.3,370.0 659.6,368.5 660.5,365.0 Z" fill="#000"/><text x="776.34" y="392.0" font-family="Liberation Sans" font-size="39.0">3</text><text x="798.05" y="392.0" font-family="Liberation Sans" font-size="39.0">9</text><path d="M113.9,1034.9 L113.9,1061.9 L110.1,1061.9 L110.1,1042.9 L103.7,1042.9 L103.7,1039.9 C107.3,1039.9 109.6,1038.4 110.5,1034.9 Z" fill="#000"/><text x="192.55" y="1061.9" font-family="Liberation Sans" font-size="39.0">2</text><text x="285.24" y="1061.9" font-family="Liberation Sans" font-size="39.0">3</text><text x="379.32" y="1061.9" font-family="Liberation Sans" font-size="39.0">4</text><text x="471.34" y="1061.9" font-family="Liberation Sans" font-size="39.0">5</text><text x="563.75" y="1061.9" font-family="Liberation Sans" font-size="39.0">6</text><text x="656.35" y="1061.9" font-family="Liberation Sans" font-size="39.0">7</text><text x="749.54" y="1061.9" font-family="Liberation Sans" font-size="39.0">8</text><text x="841.95" y="1061.9" font-family="Liberation Sans" font-size="39.0">9</text><path d="M939.0,1034.9 L939.0,1061.9 L935.2,1061.9 L935.2,1042.9 L928.8,1042.9 L928.8,1039.9 C932.4,1039.9 934.7,1038.4 935.6,1034.9 Z" fill="#000"/><text x="946.24" y="1061.9" font-family="Liberation Sans" font-size="39.0">0</text></g>
</svg>
</body></html>
